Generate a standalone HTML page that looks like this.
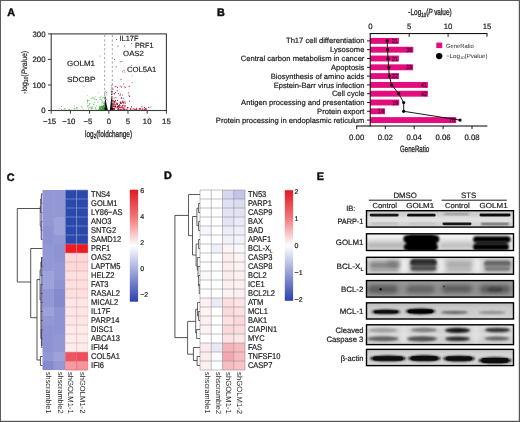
<!DOCTYPE html>
<html><head><meta charset="utf-8"><title>Figure</title>
<style>
html,body{margin:0;padding:0;background:#fff;}
body{width:520px;height:422px;overflow:hidden;font-family:"Liberation Sans", sans-serif;}
svg{display:block;font-family:"Liberation Sans", sans-serif;}
</style></head><body>
<svg width="520" height="422" viewBox="0 0 520 422" text-rendering="geometricPrecision">
<defs><filter id="soft" x="0" y="0" width="100%" height="100%" filterUnits="objectBoundingBox"><feGaussianBlur stdDeviation="0.35"/></filter></defs>
<g opacity="0.999" filter="url(#soft)">
<rect x="0" y="0" width="520" height="422" fill="#fff"/>
<text x="7.3" y="16.4" font-size="10.8" font-weight="bold" fill="#111" stroke="#111" stroke-width="0.45">A</text>
<text x="217" y="16.4" font-size="10.8" font-weight="bold" fill="#111" stroke="#111" stroke-width="0.45">B</text>
<text x="6.8" y="180.5" font-size="10.8" font-weight="bold" fill="#111" stroke="#111" stroke-width="0.45">C</text>
<text x="164" y="179.2" font-size="10.8" font-weight="bold" fill="#111" stroke="#111" stroke-width="0.45">D</text>
<text x="316.8" y="179.6" font-size="10.8" font-weight="bold" fill="#111" stroke="#111" stroke-width="0.45">E</text>
<g>
<circle cx="74.7" cy="108.2" r="0.5" fill="#3fb53f"/>
<circle cx="92.2" cy="108.6" r="0.5" fill="#3fb53f"/>
<circle cx="76.8" cy="108.1" r="0.5" fill="#3fb53f"/>
<circle cx="64.8" cy="108.4" r="0.5" fill="#3fb53f"/>
<circle cx="81.3" cy="106.5" r="0.5" fill="#3fb53f"/>
<circle cx="61.5" cy="109.2" r="0.5" fill="#3fb53f"/>
<circle cx="61.4" cy="106.4" r="0.5" fill="#3fb53f"/>
<circle cx="83.7" cy="109.9" r="0.5" fill="#3fb53f"/>
<circle cx="94.3" cy="102.6" r="0.5" fill="#3fb53f"/>
<circle cx="82.2" cy="107.9" r="0.5" fill="#3fb53f"/>
<circle cx="63.8" cy="110.0" r="0.5" fill="#3fb53f"/>
<circle cx="77.6" cy="109.9" r="0.5" fill="#3fb53f"/>
<circle cx="65.0" cy="109.4" r="0.5" fill="#3fb53f"/>
<circle cx="59.1" cy="108.6" r="0.5" fill="#3fb53f"/>
<circle cx="74.3" cy="105.9" r="0.5" fill="#3fb53f"/>
<circle cx="77.2" cy="107.8" r="0.5" fill="#3fb53f"/>
<circle cx="76.5" cy="107.6" r="0.5" fill="#3fb53f"/>
<circle cx="74.9" cy="109.3" r="0.5" fill="#3fb53f"/>
<circle cx="94.9" cy="99.0" r="0.5" fill="#3fb53f"/>
<circle cx="89.1" cy="107.3" r="0.5" fill="#3fb53f"/>
<circle cx="69.7" cy="109.4" r="0.5" fill="#3fb53f"/>
<circle cx="68.7" cy="109.8" r="0.5" fill="#3fb53f"/>
<circle cx="92.1" cy="106.7" r="0.5" fill="#3fb53f"/>
<circle cx="90.3" cy="106.9" r="0.5" fill="#3fb53f"/>
<circle cx="87.8" cy="99.9" r="0.5" fill="#3fb53f"/>
<circle cx="104.8" cy="108.8" r="0.5" fill="#3fb53f"/>
<circle cx="88.9" cy="105.8" r="0.5" fill="#3fb53f"/>
<circle cx="87.3" cy="106.7" r="0.5" fill="#3fb53f"/>
<circle cx="104.2" cy="103.5" r="0.5" fill="#3fb53f"/>
<circle cx="91.8" cy="108.2" r="0.5" fill="#3fb53f"/>
<circle cx="104.0" cy="107.5" r="0.5" fill="#3fb53f"/>
<circle cx="87.6" cy="101.4" r="0.5" fill="#3fb53f"/>
<circle cx="103.7" cy="108.4" r="0.5" fill="#3fb53f"/>
<circle cx="103.9" cy="109.8" r="0.5" fill="#3fb53f"/>
<circle cx="91.4" cy="109.0" r="0.5" fill="#3fb53f"/>
<circle cx="96.3" cy="106.1" r="0.5" fill="#3fb53f"/>
<circle cx="102.7" cy="101.9" r="0.5" fill="#3fb53f"/>
<circle cx="103.5" cy="103.3" r="0.5" fill="#3fb53f"/>
<circle cx="103.7" cy="106.5" r="0.5" fill="#3fb53f"/>
<circle cx="102.4" cy="108.2" r="0.5" fill="#3fb53f"/>
<circle cx="87.5" cy="100.6" r="0.5" fill="#3fb53f"/>
<circle cx="101.0" cy="99.2" r="0.5" fill="#3fb53f"/>
<circle cx="102.4" cy="106.8" r="0.5" fill="#3fb53f"/>
<circle cx="90.1" cy="103.3" r="0.5" fill="#3fb53f"/>
<circle cx="103.9" cy="97.2" r="0.5" fill="#3fb53f"/>
<circle cx="102.4" cy="108.3" r="0.5" fill="#3fb53f"/>
<circle cx="91.9" cy="107.5" r="0.5" fill="#3fb53f"/>
<circle cx="101.1" cy="109.7" r="0.5" fill="#3fb53f"/>
<circle cx="104.0" cy="104.2" r="0.5" fill="#3fb53f"/>
<circle cx="101.9" cy="103.9" r="0.5" fill="#3fb53f"/>
<circle cx="99.8" cy="106.0" r="0.5" fill="#3fb53f"/>
<circle cx="87.8" cy="105.6" r="0.5" fill="#3fb53f"/>
<circle cx="96.0" cy="99.5" r="0.5" fill="#3fb53f"/>
<circle cx="102.8" cy="109.2" r="0.5" fill="#3fb53f"/>
<circle cx="88.9" cy="100.4" r="0.5" fill="#3fb53f"/>
<circle cx="101.8" cy="108.9" r="0.5" fill="#3fb53f"/>
<circle cx="92.6" cy="98.1" r="0.5" fill="#3fb53f"/>
<circle cx="102.6" cy="98.0" r="0.5" fill="#3fb53f"/>
<circle cx="89.5" cy="103.9" r="0.5" fill="#3fb53f"/>
<circle cx="98.9" cy="109.6" r="0.5" fill="#3fb53f"/>
<circle cx="104.5" cy="97.7" r="0.5" fill="#3fb53f"/>
<circle cx="102.0" cy="102.3" r="0.5" fill="#3fb53f"/>
<circle cx="101.7" cy="100.3" r="0.5" fill="#3fb53f"/>
<circle cx="95.6" cy="107.9" r="0.5" fill="#3fb53f"/>
<circle cx="102.9" cy="102.1" r="0.5" fill="#3fb53f"/>
<circle cx="104.2" cy="108.6" r="0.5" fill="#3fb53f"/>
<circle cx="96.3" cy="99.8" r="0.5" fill="#3fb53f"/>
<circle cx="95.2" cy="108.1" r="0.5" fill="#3fb53f"/>
<circle cx="88.7" cy="108.8" r="0.5" fill="#3fb53f"/>
<circle cx="104.7" cy="108.2" r="0.5" fill="#3fb53f"/>
<circle cx="98.5" cy="109.8" r="0.5" fill="#3fb53f"/>
<circle cx="102.9" cy="107.1" r="0.5" fill="#3fb53f"/>
<circle cx="96.1" cy="109.4" r="0.5" fill="#3fb53f"/>
<circle cx="100.0" cy="99.1" r="0.5" fill="#3fb53f"/>
<circle cx="87.3" cy="103.1" r="0.5" fill="#3fb53f"/>
<circle cx="93.7" cy="104.2" r="0.5" fill="#3fb53f"/>
<circle cx="103.4" cy="109.9" r="0.5" fill="#3fb53f"/>
<circle cx="104.7" cy="98.7" r="0.5" fill="#3fb53f"/>
<circle cx="93.5" cy="97.7" r="0.5" fill="#3fb53f"/>
<circle cx="104.7" cy="103.4" r="0.5" fill="#3fb53f"/>
<circle cx="97.8" cy="101.9" r="0.5" fill="#3fb53f"/>
<circle cx="100.7" cy="97.0" r="0.5" fill="#3fb53f"/>
<circle cx="99.9" cy="108.0" r="0.55" fill="#2fa82f"/>
<circle cx="103.6" cy="106.1" r="0.55" fill="#2fa82f"/>
<circle cx="103.6" cy="107.2" r="0.55" fill="#2fa82f"/>
<circle cx="103.9" cy="106.0" r="0.55" fill="#2fa82f"/>
<circle cx="101.4" cy="107.2" r="0.55" fill="#2fa82f"/>
<circle cx="104.5" cy="106.2" r="0.55" fill="#2fa82f"/>
<circle cx="101.8" cy="106.7" r="0.55" fill="#2fa82f"/>
<circle cx="104.2" cy="107.8" r="0.55" fill="#2fa82f"/>
<circle cx="102.9" cy="108.7" r="0.55" fill="#2fa82f"/>
<circle cx="102.7" cy="107.6" r="0.55" fill="#2fa82f"/>
<circle cx="99.9" cy="107.5" r="0.55" fill="#2fa82f"/>
<circle cx="105.0" cy="106.2" r="0.55" fill="#2fa82f"/>
<circle cx="103.5" cy="108.7" r="0.55" fill="#2fa82f"/>
<circle cx="103.5" cy="107.8" r="0.55" fill="#2fa82f"/>
<circle cx="101.9" cy="106.4" r="0.55" fill="#2fa82f"/>
<circle cx="100.0" cy="106.9" r="0.55" fill="#2fa82f"/>
<circle cx="99.7" cy="107.7" r="0.55" fill="#2fa82f"/>
<circle cx="102.1" cy="109.3" r="0.55" fill="#2fa82f"/>
<circle cx="103.3" cy="108.2" r="0.55" fill="#2fa82f"/>
<circle cx="102.9" cy="106.0" r="0.55" fill="#2fa82f"/>
<circle cx="100.9" cy="110.0" r="0.55" fill="#2fa82f"/>
<circle cx="101.2" cy="107.3" r="0.55" fill="#2fa82f"/>
<circle cx="100.6" cy="109.6" r="0.55" fill="#2fa82f"/>
<circle cx="104.5" cy="107.4" r="0.55" fill="#2fa82f"/>
<circle cx="101.9" cy="106.1" r="0.55" fill="#2fa82f"/>
<circle cx="101.3" cy="107.3" r="0.55" fill="#2fa82f"/>
<circle cx="100.6" cy="108.5" r="0.55" fill="#2fa82f"/>
<circle cx="103.9" cy="106.0" r="0.55" fill="#2fa82f"/>
<circle cx="104.3" cy="108.7" r="0.55" fill="#2fa82f"/>
<circle cx="102.7" cy="109.0" r="0.55" fill="#2fa82f"/>
<circle cx="100.2" cy="108.2" r="0.55" fill="#2fa82f"/>
<circle cx="104.1" cy="106.4" r="0.55" fill="#2fa82f"/>
<circle cx="103.4" cy="105.8" r="0.55" fill="#2fa82f"/>
<circle cx="101.0" cy="109.6" r="0.55" fill="#2fa82f"/>
<circle cx="102.0" cy="109.2" r="0.55" fill="#2fa82f"/>
<circle cx="100.7" cy="108.6" r="0.55" fill="#2fa82f"/>
<circle cx="102.9" cy="108.2" r="0.55" fill="#2fa82f"/>
<circle cx="101.2" cy="106.4" r="0.55" fill="#2fa82f"/>
<circle cx="104.9" cy="108.4" r="0.55" fill="#2fa82f"/>
<circle cx="99.9" cy="109.9" r="0.55" fill="#2fa82f"/>
<circle cx="104.3" cy="109.9" r="0.55" fill="#2fa82f"/>
<circle cx="103.4" cy="107.8" r="0.55" fill="#2fa82f"/>
<circle cx="101.2" cy="106.7" r="0.55" fill="#2fa82f"/>
<circle cx="99.6" cy="109.7" r="0.55" fill="#2fa82f"/>
<circle cx="102.0" cy="110.0" r="0.55" fill="#2fa82f"/>
<circle cx="104.1" cy="109.3" r="0.55" fill="#2fa82f"/>
<circle cx="100.3" cy="109.9" r="0.55" fill="#2fa82f"/>
<circle cx="103.0" cy="108.4" r="0.55" fill="#2fa82f"/>
<circle cx="103.0" cy="107.4" r="0.55" fill="#2fa82f"/>
<circle cx="103.9" cy="105.7" r="0.55" fill="#2fa82f"/>
<circle cx="103.3" cy="109.4" r="0.55" fill="#2fa82f"/>
<circle cx="102.1" cy="109.5" r="0.55" fill="#2fa82f"/>
<circle cx="99.6" cy="108.3" r="0.55" fill="#2fa82f"/>
<circle cx="103.4" cy="109.5" r="0.55" fill="#2fa82f"/>
<circle cx="101.0" cy="108.9" r="0.55" fill="#2fa82f"/>
<circle cx="95.8" cy="96.2" r="0.45" fill="#3fb53f"/>
<circle cx="94.6" cy="98.0" r="0.45" fill="#3fb53f"/>
<circle cx="91.5" cy="98.3" r="0.45" fill="#3fb53f"/>
<circle cx="98.7" cy="92.7" r="0.45" fill="#3fb53f"/>
<circle cx="99.1" cy="97.8" r="0.45" fill="#3fb53f"/>
<circle cx="87.8" cy="95.6" r="0.45" fill="#3fb53f"/>
<circle cx="104.8" cy="93.1" r="0.45" fill="#111"/>
<circle cx="104.8" cy="95.3" r="0.45" fill="#111"/>
<circle cx="106.2" cy="99.4" r="0.45" fill="#111"/>
<circle cx="105.0" cy="94.1" r="0.45" fill="#111"/>
<circle cx="105.4" cy="96.9" r="0.45" fill="#111"/>
<circle cx="105.3" cy="98.0" r="0.45" fill="#111"/>
<circle cx="105.1" cy="91.3" r="0.45" fill="#111"/>
<circle cx="105.0" cy="98.9" r="0.45" fill="#111"/>
<circle cx="107.0" cy="94.9" r="0.45" fill="#111"/>
<circle cx="105.4" cy="97.7" r="0.45" fill="#111"/>
<circle cx="105.1" cy="98.4" r="0.45" fill="#111"/>
<circle cx="106.6" cy="92.8" r="0.45" fill="#111"/>
<circle cx="112.2" cy="91.6" r="0.45" fill="#111"/>
<circle cx="112.0" cy="94.2" r="0.45" fill="#111"/>
<circle cx="111.6" cy="94.7" r="0.45" fill="#111"/>
<circle cx="111.7" cy="85.8" r="0.45" fill="#111"/>
<circle cx="111.8" cy="89.0" r="0.45" fill="#111"/>
<circle cx="111.4" cy="94.5" r="0.45" fill="#111"/>
<circle cx="111.9" cy="91.2" r="0.45" fill="#111"/>
<circle cx="111.9" cy="93.7" r="0.45" fill="#111"/>
<circle cx="112.1" cy="96.3" r="0.45" fill="#111"/>
<circle cx="111.1" cy="90.9" r="0.45" fill="#111"/>
<circle cx="111.9" cy="87.7" r="0.45" fill="#111"/>
<circle cx="111.6" cy="91.3" r="0.45" fill="#111"/>
<circle cx="111.5" cy="92.7" r="0.45" fill="#111"/>
<circle cx="112.5" cy="91.3" r="0.45" fill="#111"/>
<circle cx="122.8" cy="105.5" r="0.6" fill="#a80f28"/>
<circle cx="115.1" cy="107.2" r="0.6" fill="#a80f28"/>
<circle cx="122.9" cy="102.1" r="0.6" fill="#a80f28"/>
<circle cx="114.0" cy="102.6" r="0.6" fill="#a80f28"/>
<circle cx="125.0" cy="105.9" r="0.6" fill="#a80f28"/>
<circle cx="118.6" cy="108.7" r="0.6" fill="#a80f28"/>
<circle cx="118.0" cy="106.1" r="0.6" fill="#a80f28"/>
<circle cx="119.0" cy="109.9" r="0.6" fill="#a80f28"/>
<circle cx="125.0" cy="105.9" r="0.6" fill="#a80f28"/>
<circle cx="116.2" cy="103.1" r="0.6" fill="#a80f28"/>
<circle cx="118.4" cy="106.2" r="0.6" fill="#a80f28"/>
<circle cx="120.3" cy="109.7" r="0.6" fill="#a80f28"/>
<circle cx="118.1" cy="106.9" r="0.6" fill="#a80f28"/>
<circle cx="124.8" cy="101.8" r="0.6" fill="#a80f28"/>
<circle cx="114.7" cy="106.3" r="0.6" fill="#a80f28"/>
<circle cx="113.3" cy="106.7" r="0.6" fill="#a80f28"/>
<circle cx="122.4" cy="102.1" r="0.6" fill="#a80f28"/>
<circle cx="117.2" cy="107.7" r="0.6" fill="#a80f28"/>
<circle cx="113.9" cy="104.9" r="0.6" fill="#a80f28"/>
<circle cx="124.3" cy="109.2" r="0.6" fill="#a80f28"/>
<circle cx="121.8" cy="109.9" r="0.6" fill="#a80f28"/>
<circle cx="113.9" cy="108.5" r="0.6" fill="#a80f28"/>
<circle cx="120.3" cy="107.7" r="0.6" fill="#a80f28"/>
<circle cx="115.7" cy="104.9" r="0.6" fill="#a80f28"/>
<circle cx="113.2" cy="103.8" r="0.6" fill="#a80f28"/>
<circle cx="113.3" cy="106.0" r="0.6" fill="#a80f28"/>
<circle cx="114.5" cy="108.7" r="0.6" fill="#a80f28"/>
<circle cx="117.9" cy="106.7" r="0.6" fill="#a80f28"/>
<circle cx="115.9" cy="106.9" r="0.6" fill="#a80f28"/>
<circle cx="117.9" cy="109.0" r="0.6" fill="#a80f28"/>
<circle cx="114.0" cy="104.8" r="0.6" fill="#a80f28"/>
<circle cx="119.5" cy="105.8" r="0.6" fill="#a80f28"/>
<circle cx="123.0" cy="105.0" r="0.6" fill="#a80f28"/>
<circle cx="123.1" cy="108.4" r="0.6" fill="#a80f28"/>
<circle cx="121.1" cy="103.0" r="0.6" fill="#a80f28"/>
<circle cx="123.9" cy="107.7" r="0.6" fill="#a80f28"/>
<circle cx="115.2" cy="101.8" r="0.6" fill="#a80f28"/>
<circle cx="114.1" cy="101.0" r="0.6" fill="#a80f28"/>
<circle cx="123.6" cy="109.2" r="0.6" fill="#a80f28"/>
<circle cx="114.4" cy="103.9" r="0.6" fill="#a80f28"/>
<circle cx="114.6" cy="109.5" r="0.6" fill="#a80f28"/>
<circle cx="122.7" cy="106.8" r="0.6" fill="#a80f28"/>
<circle cx="121.9" cy="109.3" r="0.6" fill="#a80f28"/>
<circle cx="116.2" cy="104.3" r="0.6" fill="#a80f28"/>
<circle cx="112.6" cy="108.7" r="0.6" fill="#a80f28"/>
<circle cx="120.2" cy="101.9" r="0.6" fill="#a80f28"/>
<circle cx="125.0" cy="109.3" r="0.6" fill="#a80f28"/>
<circle cx="117.6" cy="103.5" r="0.6" fill="#a80f28"/>
<circle cx="117.6" cy="104.3" r="0.6" fill="#a80f28"/>
<circle cx="113.9" cy="109.6" r="0.6" fill="#a80f28"/>
<circle cx="113.2" cy="109.8" r="0.6" fill="#a80f28"/>
<circle cx="118.3" cy="105.9" r="0.6" fill="#a80f28"/>
<circle cx="118.5" cy="109.1" r="0.6" fill="#a80f28"/>
<circle cx="113.8" cy="108.7" r="0.6" fill="#a80f28"/>
<circle cx="122.8" cy="101.1" r="0.6" fill="#a80f28"/>
<circle cx="124.3" cy="109.5" r="0.6" fill="#a80f28"/>
<circle cx="112.9" cy="101.5" r="0.6" fill="#a80f28"/>
<circle cx="117.0" cy="103.5" r="0.6" fill="#a80f28"/>
<circle cx="115.3" cy="106.4" r="0.6" fill="#a80f28"/>
<circle cx="117.7" cy="106.7" r="0.6" fill="#a80f28"/>
<circle cx="119.0" cy="109.9" r="0.6" fill="#a80f28"/>
<circle cx="120.5" cy="102.7" r="0.6" fill="#a80f28"/>
<circle cx="113.8" cy="106.5" r="0.6" fill="#a80f28"/>
<circle cx="121.1" cy="107.0" r="0.6" fill="#a80f28"/>
<circle cx="113.9" cy="109.0" r="0.6" fill="#a80f28"/>
<circle cx="117.7" cy="109.9" r="0.6" fill="#a80f28"/>
<circle cx="123.7" cy="103.1" r="0.6" fill="#a80f28"/>
<circle cx="120.6" cy="102.5" r="0.6" fill="#a80f28"/>
<circle cx="119.4" cy="107.0" r="0.6" fill="#a80f28"/>
<circle cx="119.0" cy="106.0" r="0.6" fill="#a80f28"/>
<circle cx="125.3" cy="103.1" r="0.6" fill="#a80f28"/>
<circle cx="114.6" cy="101.9" r="0.6" fill="#a80f28"/>
<circle cx="121.2" cy="103.3" r="0.6" fill="#a80f28"/>
<circle cx="122.4" cy="107.0" r="0.6" fill="#a80f28"/>
<circle cx="123.8" cy="102.3" r="0.6" fill="#a80f28"/>
<circle cx="120.4" cy="103.5" r="0.6" fill="#a80f28"/>
<circle cx="121.5" cy="107.0" r="0.6" fill="#a80f28"/>
<circle cx="120.8" cy="109.6" r="0.6" fill="#a80f28"/>
<circle cx="115.5" cy="106.4" r="0.6" fill="#a80f28"/>
<circle cx="112.6" cy="107.4" r="0.6" fill="#a80f28"/>
<circle cx="119.5" cy="104.9" r="0.6" fill="#a80f28"/>
<circle cx="114.3" cy="101.6" r="0.6" fill="#a80f28"/>
<circle cx="120.0" cy="107.6" r="0.6" fill="#a80f28"/>
<circle cx="119.9" cy="105.4" r="0.6" fill="#a80f28"/>
<circle cx="118.0" cy="107.1" r="0.6" fill="#a80f28"/>
<circle cx="129.6" cy="96.3" r="0.55" fill="#bd1230"/>
<circle cx="123.3" cy="98.2" r="0.55" fill="#bd1230"/>
<circle cx="129.2" cy="86.4" r="0.55" fill="#bd1230"/>
<circle cx="121.6" cy="97.8" r="0.55" fill="#bd1230"/>
<circle cx="115.5" cy="92.4" r="0.55" fill="#bd1230"/>
<circle cx="113.0" cy="89.1" r="0.55" fill="#bd1230"/>
<circle cx="117.4" cy="87.6" r="0.55" fill="#bd1230"/>
<circle cx="115.4" cy="100.5" r="0.55" fill="#bd1230"/>
<circle cx="120.4" cy="94.1" r="0.55" fill="#bd1230"/>
<circle cx="128.9" cy="95.1" r="0.55" fill="#bd1230"/>
<circle cx="129.5" cy="96.2" r="0.55" fill="#bd1230"/>
<circle cx="125.5" cy="87.2" r="0.55" fill="#bd1230"/>
<circle cx="121.3" cy="98.1" r="0.55" fill="#bd1230"/>
<circle cx="112.9" cy="100.9" r="0.55" fill="#bd1230"/>
<circle cx="114.2" cy="93.5" r="0.55" fill="#bd1230"/>
<circle cx="114.3" cy="93.9" r="0.55" fill="#bd1230"/>
<circle cx="121.6" cy="86.9" r="0.55" fill="#bd1230"/>
<circle cx="128.4" cy="92.7" r="0.55" fill="#bd1230"/>
<circle cx="120.0" cy="95.6" r="0.55" fill="#bd1230"/>
<circle cx="117.2" cy="90.6" r="0.55" fill="#bd1230"/>
<circle cx="122.4" cy="95.0" r="0.55" fill="#bd1230"/>
<circle cx="115.9" cy="97.5" r="0.55" fill="#bd1230"/>
<circle cx="116.1" cy="86.2" r="0.55" fill="#bd1230"/>
<circle cx="115.3" cy="86.7" r="0.55" fill="#bd1230"/>
<circle cx="114.1" cy="98.1" r="0.55" fill="#bd1230"/>
<circle cx="117.6" cy="100.4" r="0.55" fill="#bd1230"/>
<circle cx="124.3" cy="86.8" r="0.55" fill="#bd1230"/>
<circle cx="129.4" cy="101.1" r="0.55" fill="#bd1230"/>
<circle cx="113.2" cy="100.5" r="0.55" fill="#bd1230"/>
<circle cx="118.3" cy="93.6" r="0.55" fill="#bd1230"/>
<circle cx="131.8" cy="65.3" r="0.5" fill="#bd1230"/>
<circle cx="120.2" cy="86.1" r="0.5" fill="#bd1230"/>
<circle cx="124.9" cy="72.1" r="0.5" fill="#bd1230"/>
<circle cx="132.0" cy="82.5" r="0.5" fill="#bd1230"/>
<circle cx="122.0" cy="61.5" r="0.5" fill="#bd1230"/>
<circle cx="122.5" cy="71.7" r="0.5" fill="#bd1230"/>
<circle cx="114.4" cy="59.6" r="0.5" fill="#bd1230"/>
<circle cx="120.3" cy="61.7" r="0.5" fill="#bd1230"/>
<circle cx="136.5" cy="108.3" r="0.55" fill="#bd1230"/>
<circle cx="136.8" cy="109.6" r="0.55" fill="#bd1230"/>
<circle cx="140.1" cy="109.2" r="0.55" fill="#bd1230"/>
<circle cx="145.2" cy="108.8" r="0.55" fill="#bd1230"/>
<circle cx="150.9" cy="107.0" r="0.55" fill="#bd1230"/>
<circle cx="144.1" cy="109.7" r="0.55" fill="#bd1230"/>
<circle cx="128.0" cy="107.3" r="0.55" fill="#bd1230"/>
<circle cx="145.4" cy="108.5" r="0.55" fill="#bd1230"/>
<circle cx="134.3" cy="109.6" r="0.55" fill="#bd1230"/>
<circle cx="142.8" cy="108.7" r="0.55" fill="#bd1230"/>
<circle cx="140.4" cy="108.5" r="0.55" fill="#bd1230"/>
<circle cx="144.6" cy="109.8" r="0.55" fill="#bd1230"/>
<circle cx="131.5" cy="106.9" r="0.55" fill="#bd1230"/>
<circle cx="148.8" cy="107.4" r="0.55" fill="#bd1230"/>
<circle cx="126.0" cy="110.0" r="0.55" fill="#bd1230"/>
<circle cx="132.0" cy="109.2" r="0.55" fill="#bd1230"/>
<circle cx="141.2" cy="109.9" r="0.55" fill="#bd1230"/>
<circle cx="139.1" cy="110.0" r="0.55" fill="#bd1230"/>
<circle cx="127.2" cy="108.3" r="0.55" fill="#bd1230"/>
<circle cx="139.3" cy="108.5" r="0.55" fill="#bd1230"/>
<circle cx="134.7" cy="109.0" r="0.55" fill="#bd1230"/>
<circle cx="130.5" cy="109.4" r="0.55" fill="#bd1230"/>
<circle cx="144.4" cy="107.6" r="0.55" fill="#bd1230"/>
<circle cx="126.9" cy="109.9" r="0.55" fill="#bd1230"/>
<circle cx="146.0" cy="108.5" r="0.55" fill="#bd1230"/>
<circle cx="145.0" cy="109.7" r="0.55" fill="#bd1230"/>
<circle cx="136.0" cy="109.6" r="0.55" fill="#bd1230"/>
<circle cx="146.1" cy="109.4" r="0.55" fill="#bd1230"/>
<circle cx="142.0" cy="106.9" r="0.55" fill="#bd1230"/>
<circle cx="133.5" cy="108.8" r="0.55" fill="#bd1230"/>
<circle cx="144.4" cy="107.2" r="0.55" fill="#bd1230"/>
<circle cx="136.1" cy="109.4" r="0.55" fill="#bd1230"/>
<circle cx="127.5" cy="107.4" r="0.55" fill="#bd1230"/>
<circle cx="127.0" cy="109.9" r="0.55" fill="#bd1230"/>
<circle cx="139.7" cy="109.0" r="0.55" fill="#bd1230"/>
<circle cx="142.8" cy="109.5" r="0.55" fill="#bd1230"/>
<circle cx="145.2" cy="109.9" r="0.55" fill="#bd1230"/>
<circle cx="130.5" cy="108.3" r="0.55" fill="#bd1230"/>
<circle cx="116.5" cy="39.5" r="0.55" fill="#c4122f"/>
<circle cx="118" cy="46" r="0.55" fill="#c4122f"/>
<circle cx="124.3" cy="46" r="0.55" fill="#c4122f"/>
<circle cx="131.8" cy="43.5" r="0.55" fill="#c4122f"/>
<circle cx="116.2" cy="66.8" r="0.55" fill="#c4122f"/>
<circle cx="124" cy="70.3" r="0.55" fill="#c4122f"/>
<circle cx="121" cy="79.3" r="0.55" fill="#c4122f"/>
<circle cx="112.4" cy="84" r="0.55" fill="#c4122f"/>
<circle cx="123.6" cy="84" r="0.55" fill="#c4122f"/>
<path d="M104.2 110.4 L104.6 105 L105.0 100.5 L105.4 98.8 L105.9 100.5 L106.8 105.5 L108.0 110.4 Z M109.8 110.4 L110.6 104 L111.3 98 L111.8 95.2 L112.3 98.5 L112.7 104 L113.1 110.4 Z" fill="#0c0c0c"/>
<circle cx="99.8" cy="56" r="0.6" fill="#999"/><circle cx="132" cy="76" r="0.6" fill="#999"/><circle cx="84" cy="86.5" r="0.5" fill="#888"/>
</g>
<line x1="104.7" y1="35" x2="104.7" y2="110" stroke="#9a9a9a" stroke-width="0.9" stroke-dasharray="2.2 2.2"/>
<line x1="112.3" y1="35" x2="112.3" y2="110" stroke="#9a9a9a" stroke-width="0.9" stroke-dasharray="2.2 2.2"/>
<rect x="51.2" y="33.9" width="115.2" height="76.6" fill="none" stroke="#3c3c3c" stroke-width="1.1"/>
<line x1="48.0" y1="110.5" x2="51.2" y2="110.5" stroke="#3c3c3c" stroke-width="1"/>
<text x="45.5" y="113.3" font-size="7.8" text-anchor="end" fill="#222" stroke="#222" stroke-width="0.2">0</text>
<line x1="48.0" y1="84.96666666666667" x2="51.2" y2="84.96666666666667" stroke="#3c3c3c" stroke-width="1"/>
<text x="45.5" y="87.76666666666667" font-size="7.8" text-anchor="end" fill="#222" stroke="#222" stroke-width="0.2">100</text>
<line x1="48.0" y1="59.43333333333334" x2="51.2" y2="59.43333333333334" stroke="#3c3c3c" stroke-width="1"/>
<text x="45.5" y="62.233333333333334" font-size="7.8" text-anchor="end" fill="#222" stroke="#222" stroke-width="0.2">200</text>
<line x1="48.0" y1="33.900000000000006" x2="51.2" y2="33.900000000000006" stroke="#3c3c3c" stroke-width="1"/>
<text x="45.5" y="36.7" font-size="7.8" text-anchor="end" fill="#222" stroke="#222" stroke-width="0.2">300</text>
<line x1="51.2" y1="110.5" x2="51.2" y2="113.7" stroke="#3c3c3c" stroke-width="1"/>
<text x="49.6" y="123.6" font-size="7.8" text-anchor="middle" fill="#222" stroke="#222" stroke-width="0.2">−15</text>
<line x1="70.4" y1="110.5" x2="70.4" y2="113.7" stroke="#3c3c3c" stroke-width="1"/>
<text x="68.80000000000001" y="123.6" font-size="7.8" text-anchor="middle" fill="#222" stroke="#222" stroke-width="0.2">−10</text>
<line x1="89.6" y1="110.5" x2="89.6" y2="113.7" stroke="#3c3c3c" stroke-width="1"/>
<text x="88.0" y="123.6" font-size="7.8" text-anchor="middle" fill="#222" stroke="#222" stroke-width="0.2">−5</text>
<line x1="108.8" y1="110.5" x2="108.8" y2="113.7" stroke="#3c3c3c" stroke-width="1"/>
<text x="108.8" y="123.6" font-size="7.8" text-anchor="middle" fill="#222" stroke="#222" stroke-width="0.2">0</text>
<line x1="128.0" y1="110.5" x2="128.0" y2="113.7" stroke="#3c3c3c" stroke-width="1"/>
<text x="128.0" y="123.6" font-size="7.8" text-anchor="middle" fill="#222" stroke="#222" stroke-width="0.2">5</text>
<line x1="147.2" y1="110.5" x2="147.2" y2="113.7" stroke="#3c3c3c" stroke-width="1"/>
<text x="147.2" y="123.6" font-size="7.8" text-anchor="middle" fill="#222" stroke="#222" stroke-width="0.2">10</text>
<line x1="166.39999999999998" y1="110.5" x2="166.39999999999998" y2="113.7" stroke="#3c3c3c" stroke-width="1"/>
<text x="166.39999999999998" y="123.6" font-size="7.8" text-anchor="middle" fill="#222" stroke="#222" stroke-width="0.2">15</text>
<text x="119.5" y="40.7" font-size="7.5" textLength="19" lengthAdjust="spacingAndGlyphs" fill="#2a2a2a" stroke="#2a2a2a" stroke-width="0.2">IL17F</text>
<text x="135" y="47.7" font-size="7.5" textLength="18.5" lengthAdjust="spacingAndGlyphs" fill="#2a2a2a" stroke="#2a2a2a" stroke-width="0.2">PRF1</text>
<text x="123.1" y="55.6" font-size="7.5" textLength="20.8" lengthAdjust="spacingAndGlyphs" fill="#2a2a2a" stroke="#2a2a2a" stroke-width="0.2">OAS2</text>
<text x="126.9" y="71.6" font-size="7.5" textLength="29.5" lengthAdjust="spacingAndGlyphs" fill="#2a2a2a" stroke="#2a2a2a" stroke-width="0.2">COL5A1</text>
<text x="67" y="66" font-size="7.5" textLength="28" lengthAdjust="spacingAndGlyphs" fill="#2a2a2a" stroke="#2a2a2a" stroke-width="0.2">GOLM1</text>
<text x="67" y="82.3" font-size="7.5" textLength="28.5" lengthAdjust="spacingAndGlyphs" fill="#2a2a2a" stroke="#2a2a2a" stroke-width="0.2">SDCBP</text>
<text x="108.6" y="136.6" font-size="9" text-anchor="middle" textLength="47" lengthAdjust="spacingAndGlyphs" fill="#2a2a2a" stroke="#2a2a2a" stroke-width="0.34">log<tspan font-size="6.2" dy="1.8">2</tspan><tspan dy="-1.8">(foldchange)</tspan></text>
<g transform="translate(26.7,72.3) rotate(-90)">
<text x="0" y="0" font-size="8" text-anchor="middle" textLength="43" lengthAdjust="spacingAndGlyphs" fill="#2a2a2a" stroke="#2a2a2a" stroke-width="0.2">-log<tspan font-size="5.8" dy="1.6">10</tspan><tspan dy="-1.6">(</tspan><tspan font-style="italic">P</tspan>value)</text>
</g>
<rect x="370.20" y="37.95" width="28.70" height="5.90" fill="#e3097e"/>
<text x="397.79999999999995" y="43.0" font-size="6" text-anchor="end" textLength="5.8" lengthAdjust="spacingAndGlyphs" fill="#560640" stroke="#560640" stroke-width="0.3">21</text>
<line x1="367.0" y1="40.9" x2="370.2" y2="40.9" stroke="#000" stroke-width="0.9"/>
<text x="364.4" y="43.1" font-size="7.6" text-anchor="end" fill="#1c1c1c" stroke="#1c1c1c" stroke-width="0.2">Th17 cell differentiation</text>
<rect x="370.20" y="46.75" width="43.10" height="5.90" fill="#e3097e"/>
<text x="412.2" y="51.800000000000004" font-size="6" text-anchor="end" textLength="5.8" lengthAdjust="spacingAndGlyphs" fill="#560640" stroke="#560640" stroke-width="0.3">35</text>
<line x1="367.0" y1="49.7" x2="370.2" y2="49.7" stroke="#000" stroke-width="0.9"/>
<text x="364.4" y="51.980000000000004" font-size="7.6" text-anchor="end" fill="#1c1c1c" stroke="#1c1c1c" stroke-width="0.2">Lysosome</text>
<rect x="370.20" y="55.55" width="28.70" height="5.90" fill="#e3097e"/>
<text x="397.79999999999995" y="60.6" font-size="6" text-anchor="end" textLength="5.8" lengthAdjust="spacingAndGlyphs" fill="#560640" stroke="#560640" stroke-width="0.3">21</text>
<line x1="367.0" y1="58.5" x2="370.2" y2="58.5" stroke="#000" stroke-width="0.9"/>
<text x="364.4" y="60.86" font-size="7.6" text-anchor="end" fill="#1c1c1c" stroke="#1c1c1c" stroke-width="0.2">Central carbon metabolism in cancer</text>
<rect x="370.20" y="64.35" width="42.90" height="5.90" fill="#e3097e"/>
<text x="412.0" y="69.39999999999999" font-size="6" text-anchor="end" textLength="5.8" lengthAdjust="spacingAndGlyphs" fill="#560640" stroke="#560640" stroke-width="0.3">33</text>
<line x1="367.0" y1="67.3" x2="370.2" y2="67.3" stroke="#000" stroke-width="0.9"/>
<text x="364.4" y="69.74" font-size="7.6" text-anchor="end" fill="#1c1c1c" stroke="#1c1c1c" stroke-width="0.2">Apoptosis</text>
<rect x="370.20" y="73.15" width="28.70" height="5.90" fill="#e3097e"/>
<text x="397.79999999999995" y="78.19999999999999" font-size="6" text-anchor="end" textLength="5.8" lengthAdjust="spacingAndGlyphs" fill="#560640" stroke="#560640" stroke-width="0.3">22</text>
<line x1="367.0" y1="76.1" x2="370.2" y2="76.1" stroke="#000" stroke-width="0.9"/>
<text x="364.4" y="78.62" font-size="7.6" text-anchor="end" fill="#1c1c1c" stroke="#1c1c1c" stroke-width="0.2">Biosynthesis of amino acids</text>
<rect x="370.20" y="81.95" width="57.70" height="5.90" fill="#e3097e"/>
<text x="426.79999999999995" y="87.0" font-size="6" text-anchor="end" textLength="5.8" lengthAdjust="spacingAndGlyphs" fill="#560640" stroke="#560640" stroke-width="0.3">41</text>
<line x1="367.0" y1="84.9" x2="370.2" y2="84.9" stroke="#000" stroke-width="0.9"/>
<text x="364.4" y="87.50000000000001" font-size="7.6" text-anchor="end" fill="#1c1c1c" stroke="#1c1c1c" stroke-width="0.2">Epstein-Barr virus infection</text>
<rect x="370.20" y="90.75" width="57.70" height="5.90" fill="#e3097e"/>
<text x="426.79999999999995" y="95.8" font-size="6" text-anchor="end" textLength="5.8" lengthAdjust="spacingAndGlyphs" fill="#560640" stroke="#560640" stroke-width="0.3">42</text>
<line x1="367.0" y1="93.7" x2="370.2" y2="93.7" stroke="#000" stroke-width="0.9"/>
<text x="364.4" y="96.38000000000001" font-size="7.6" text-anchor="end" fill="#1c1c1c" stroke="#1c1c1c" stroke-width="0.2">Cell cycle</text>
<rect x="370.20" y="99.55" width="29.00" height="5.90" fill="#e3097e"/>
<text x="398.09999999999997" y="104.6" font-size="6" text-anchor="end" textLength="5.8" lengthAdjust="spacingAndGlyphs" fill="#560640" stroke="#560640" stroke-width="0.3">19</text>
<line x1="367.0" y1="102.5" x2="370.2" y2="102.5" stroke="#000" stroke-width="0.9"/>
<text x="364.4" y="105.26" font-size="7.6" text-anchor="end" fill="#1c1c1c" stroke="#1c1c1c" stroke-width="0.2">Antigen processing and presentation</text>
<rect x="370.20" y="108.35" width="14.80" height="5.90" fill="#e3097e"/>
<text x="383.9" y="113.4" font-size="6" text-anchor="end" textLength="5.8" lengthAdjust="spacingAndGlyphs" fill="#560640" stroke="#560640" stroke-width="0.3">14</text>
<line x1="367.0" y1="111.30000000000001" x2="370.2" y2="111.30000000000001" stroke="#000" stroke-width="0.9"/>
<text x="364.4" y="114.14" font-size="7.6" text-anchor="end" fill="#1c1c1c" stroke="#1c1c1c" stroke-width="0.2">Protein export</text>
<rect x="370.20" y="117.15" width="86.00" height="5.90" fill="#e3097e"/>
<text x="455.09999999999997" y="122.19999999999999" font-size="6" text-anchor="end" textLength="5.8" lengthAdjust="spacingAndGlyphs" fill="#560640" stroke="#560640" stroke-width="0.3">70</text>
<line x1="367.0" y1="120.1" x2="370.2" y2="120.1" stroke="#000" stroke-width="0.9"/>
<text x="364.4" y="123.02" font-size="7.6" text-anchor="end" fill="#1c1c1c" stroke="#1c1c1c" stroke-width="0.2">Protein processing in endoplasmic reticulum</text>
<line x1="370.2" y1="33.4" x2="370.2" y2="126.4" stroke="#000" stroke-width="1"/>
<line x1="369.7" y1="33.6" x2="487.4" y2="33.6" stroke="#000" stroke-width="1"/>
<text x="370.4" y="29.1" font-size="7.8" text-anchor="middle" fill="#222" stroke="#222" stroke-width="0.2">0</text>
<line x1="409.2" y1="33.6" x2="409.2" y2="36.8" stroke="#000" stroke-width="0.9"/>
<text x="409.2" y="29.1" font-size="7.8" text-anchor="middle" fill="#222" stroke="#222" stroke-width="0.2">5</text>
<line x1="448.1" y1="33.6" x2="448.1" y2="36.8" stroke="#000" stroke-width="0.9"/>
<text x="448.1" y="29.1" font-size="7.8" text-anchor="middle" fill="#222" stroke="#222" stroke-width="0.2">10</text>
<line x1="487" y1="33.6" x2="487" y2="36.8" stroke="#000" stroke-width="0.9"/>
<text x="487" y="29.1" font-size="7.8" text-anchor="middle" fill="#222" stroke="#222" stroke-width="0.2">15</text>
<line x1="356.2" y1="126" x2="487.4" y2="126" stroke="#000" stroke-width="1"/>
<line x1="356.7" y1="126" x2="356.7" y2="129.2" stroke="#000" stroke-width="0.9"/>
<text x="356.7" y="139.6" font-size="7.8" text-anchor="middle" fill="#222" stroke="#222" stroke-width="0.2">0.00</text>
<line x1="385.3" y1="126" x2="385.3" y2="129.2" stroke="#000" stroke-width="0.9"/>
<text x="385.3" y="139.6" font-size="7.8" text-anchor="middle" fill="#222" stroke="#222" stroke-width="0.2">0.02</text>
<line x1="414.2" y1="126" x2="414.2" y2="129.2" stroke="#000" stroke-width="0.9"/>
<text x="414.2" y="139.6" font-size="7.8" text-anchor="middle" fill="#222" stroke="#222" stroke-width="0.2">0.04</text>
<line x1="443.1" y1="126" x2="443.1" y2="129.2" stroke="#000" stroke-width="0.9"/>
<text x="443.1" y="139.6" font-size="7.8" text-anchor="middle" fill="#222" stroke="#222" stroke-width="0.2">0.06</text>
<line x1="472" y1="126" x2="472" y2="129.2" stroke="#000" stroke-width="0.9"/>
<text x="472" y="139.6" font-size="7.8" text-anchor="middle" fill="#222" stroke="#222" stroke-width="0.2">0.08</text>
<text x="414.6" y="152" font-size="9.2" text-anchor="middle" textLength="29.2" lengthAdjust="spacingAndGlyphs" fill="#2a2a2a" stroke="#2a2a2a" stroke-width="0.34">GeneRatio</text>
<text x="430" y="15" font-size="9" text-anchor="middle" textLength="43.3" lengthAdjust="spacingAndGlyphs" fill="#2a2a2a" stroke="#2a2a2a" stroke-width="0.34">-Log<tspan font-size="6.2" dy="1.8">10</tspan><tspan dy="-1.8">(</tspan><tspan font-style="italic">P </tspan>value)</text>
<polyline fill="none" stroke="#000" stroke-width="0.9" points="387.2,40.9 387.6,49.7 388,58.5 388.7,67.3 389.3,76.1 391.7,84.9 398.7,93.7 403.7,102.5 403.7,111.3 460,120.1"/>
<circle cx="387.2" cy="40.9" r="1.6" fill="#000"/>
<circle cx="387.6" cy="49.7" r="1.6" fill="#000"/>
<circle cx="388" cy="58.5" r="1.6" fill="#000"/>
<circle cx="388.7" cy="67.3" r="1.6" fill="#000"/>
<circle cx="389.3" cy="76.1" r="1.6" fill="#000"/>
<circle cx="391.7" cy="84.9" r="1.6" fill="#000"/>
<circle cx="398.7" cy="93.7" r="1.6" fill="#000"/>
<circle cx="403.7" cy="102.5" r="1.6" fill="#000"/>
<circle cx="403.7" cy="111.3" r="1.6" fill="#000"/>
<circle cx="460" cy="120.1" r="1.6" fill="#000"/>
<rect x="436.30" y="42.60" width="5.90" height="5.50" fill="#e3097e"/>
<text x="446" y="47.5" font-size="6" textLength="27.8" lengthAdjust="spacingAndGlyphs" fill="#2a2a2a" stroke="none">GeneRatio</text>
<ellipse cx="439.2" cy="56.1" rx="3.2" ry="3.1" fill="#000"/>
<text x="446" y="58.1" font-size="6" textLength="41.5" lengthAdjust="spacingAndGlyphs" fill="#2a2a2a" stroke="none">−Log<tspan font-size="4" dy="1.2">10</tspan><tspan dy="-1.2">(</tspan><tspan font-style="italic">P</tspan>value)</text>
<rect x="42.50" y="190.00" width="11.45" height="9.05" fill="#9398d5"/>
<rect x="53.90" y="190.00" width="11.45" height="9.05" fill="#9398d5"/>
<rect x="65.30" y="190.00" width="11.35" height="9.05" fill="#2a4aaa"/>
<rect x="76.60" y="190.00" width="11.35" height="9.05" fill="#2a4aaa"/>
<rect x="42.50" y="199.00" width="11.45" height="9.05" fill="#9398d5"/>
<rect x="53.90" y="199.00" width="11.45" height="9.05" fill="#9398d5"/>
<rect x="65.30" y="199.00" width="11.35" height="9.05" fill="#2a4aaa"/>
<rect x="76.60" y="199.00" width="11.35" height="9.05" fill="#2a4aaa"/>
<rect x="42.50" y="208.00" width="11.45" height="9.05" fill="#9398d5"/>
<rect x="53.90" y="208.00" width="11.45" height="9.05" fill="#9398d5"/>
<rect x="65.30" y="208.00" width="11.35" height="9.05" fill="#2a4aaa"/>
<rect x="76.60" y="208.00" width="11.35" height="9.05" fill="#2a4aaa"/>
<rect x="42.50" y="217.00" width="11.45" height="9.05" fill="#9398d5"/>
<rect x="53.90" y="217.00" width="11.45" height="9.05" fill="#9da2da"/>
<rect x="65.30" y="217.00" width="11.35" height="9.05" fill="#2a4aaa"/>
<rect x="76.60" y="217.00" width="11.35" height="9.05" fill="#2a4aaa"/>
<rect x="42.50" y="226.00" width="11.45" height="9.05" fill="#8e93d3"/>
<rect x="53.90" y="226.00" width="11.45" height="9.05" fill="#9da2da"/>
<rect x="65.30" y="226.00" width="11.35" height="9.05" fill="#2a4aaa"/>
<rect x="76.60" y="226.00" width="11.35" height="9.05" fill="#2a4aaa"/>
<rect x="42.50" y="235.00" width="11.45" height="9.05" fill="#8e93d3"/>
<rect x="53.90" y="235.00" width="11.45" height="9.05" fill="#9398d5"/>
<rect x="65.30" y="235.00" width="11.35" height="9.05" fill="#2a4aaa"/>
<rect x="76.60" y="235.00" width="11.35" height="9.05" fill="#2a4aaa"/>
<rect x="42.50" y="244.00" width="11.45" height="9.05" fill="#9398d5"/>
<rect x="53.90" y="244.00" width="11.45" height="9.05" fill="#8e93d3"/>
<rect x="65.30" y="244.00" width="11.35" height="9.05" fill="#ee1a22"/>
<rect x="76.60" y="244.00" width="11.35" height="9.05" fill="#ee1a22"/>
<rect x="42.50" y="253.00" width="11.45" height="9.05" fill="#9398d5"/>
<rect x="53.90" y="253.00" width="11.45" height="9.05" fill="#8e93d3"/>
<rect x="65.30" y="253.00" width="11.35" height="9.05" fill="#fcd8d8"/>
<rect x="76.60" y="253.00" width="11.35" height="9.05" fill="#fcd8d8"/>
<rect x="42.50" y="262.00" width="11.45" height="9.05" fill="#9398d5"/>
<rect x="53.90" y="262.00" width="11.45" height="9.05" fill="#9398d5"/>
<rect x="65.30" y="262.00" width="11.35" height="9.05" fill="#fcd8d8"/>
<rect x="76.60" y="262.00" width="11.35" height="9.05" fill="#fcd8d8"/>
<rect x="42.50" y="271.00" width="11.45" height="9.05" fill="#9da2da"/>
<rect x="53.90" y="271.00" width="11.45" height="9.05" fill="#9398d5"/>
<rect x="65.30" y="271.00" width="11.35" height="9.05" fill="#fce0e0"/>
<rect x="76.60" y="271.00" width="11.35" height="9.05" fill="#fce0e0"/>
<rect x="42.50" y="280.00" width="11.45" height="9.05" fill="#9da2da"/>
<rect x="53.90" y="280.00" width="11.45" height="9.05" fill="#8e93d3"/>
<rect x="65.30" y="280.00" width="11.35" height="9.05" fill="#fce0e0"/>
<rect x="76.60" y="280.00" width="11.35" height="9.05" fill="#fce0e0"/>
<rect x="42.50" y="289.00" width="11.45" height="9.05" fill="#9398d5"/>
<rect x="53.90" y="289.00" width="11.45" height="9.05" fill="#858acf"/>
<rect x="65.30" y="289.00" width="11.35" height="9.05" fill="#fce0e0"/>
<rect x="76.60" y="289.00" width="11.35" height="9.05" fill="#fce0e0"/>
<rect x="42.50" y="298.00" width="11.45" height="9.05" fill="#9398d5"/>
<rect x="53.90" y="298.00" width="11.45" height="9.05" fill="#858acf"/>
<rect x="65.30" y="298.00" width="11.35" height="9.05" fill="#fde6e6"/>
<rect x="76.60" y="298.00" width="11.35" height="9.05" fill="#fde6e6"/>
<rect x="42.50" y="307.00" width="11.45" height="9.05" fill="#9da2da"/>
<rect x="53.90" y="307.00" width="11.45" height="9.05" fill="#8e93d3"/>
<rect x="65.30" y="307.00" width="11.35" height="9.05" fill="#fde6e6"/>
<rect x="76.60" y="307.00" width="11.35" height="9.05" fill="#fde6e6"/>
<rect x="42.50" y="316.00" width="11.45" height="9.05" fill="#9398d5"/>
<rect x="53.90" y="316.00" width="11.45" height="9.05" fill="#8e93d3"/>
<rect x="65.30" y="316.00" width="11.35" height="9.05" fill="#fde6e6"/>
<rect x="76.60" y="316.00" width="11.35" height="9.05" fill="#fde6e6"/>
<rect x="42.50" y="325.00" width="11.45" height="9.05" fill="#8e93d3"/>
<rect x="53.90" y="325.00" width="11.45" height="9.05" fill="#8e93d3"/>
<rect x="65.30" y="325.00" width="11.35" height="9.05" fill="#fdecec"/>
<rect x="76.60" y="325.00" width="11.35" height="9.05" fill="#fdecec"/>
<rect x="42.50" y="334.00" width="11.45" height="9.05" fill="#8e93d3"/>
<rect x="53.90" y="334.00" width="11.45" height="9.05" fill="#9398d5"/>
<rect x="65.30" y="334.00" width="11.35" height="9.05" fill="#fdecec"/>
<rect x="76.60" y="334.00" width="11.35" height="9.05" fill="#fdecec"/>
<rect x="42.50" y="343.00" width="11.45" height="9.05" fill="#8e93d3"/>
<rect x="53.90" y="343.00" width="11.45" height="9.05" fill="#9398d5"/>
<rect x="65.30" y="343.00" width="11.35" height="9.05" fill="#fdecec"/>
<rect x="76.60" y="343.00" width="11.35" height="9.05" fill="#fdecec"/>
<rect x="42.50" y="352.00" width="11.45" height="9.05" fill="#9398d5"/>
<rect x="53.90" y="352.00" width="11.45" height="9.05" fill="#9da2da"/>
<rect x="65.30" y="352.00" width="11.35" height="9.05" fill="#ee5560"/>
<rect x="76.60" y="352.00" width="11.35" height="9.05" fill="#ee4e5a"/>
<rect x="42.50" y="361.00" width="11.45" height="9.05" fill="#858acf"/>
<rect x="53.90" y="361.00" width="11.45" height="9.05" fill="#9398d5"/>
<rect x="65.30" y="361.00" width="11.35" height="9.05" fill="#f69aa0"/>
<rect x="76.60" y="361.00" width="11.35" height="9.05" fill="#f5969c"/>
<line x1="65.3" y1="190.0" x2="87.9" y2="190.0" stroke="#8ea0d2" stroke-width="0.6"/>
<line x1="65.3" y1="199.0" x2="87.9" y2="199.0" stroke="#8ea0d2" stroke-width="0.6"/>
<line x1="65.3" y1="208.0" x2="87.9" y2="208.0" stroke="#8ea0d2" stroke-width="0.6"/>
<line x1="65.3" y1="217.0" x2="87.9" y2="217.0" stroke="#8ea0d2" stroke-width="0.6"/>
<line x1="65.3" y1="226.0" x2="87.9" y2="226.0" stroke="#8ea0d2" stroke-width="0.6"/>
<line x1="65.3" y1="235.0" x2="87.9" y2="235.0" stroke="#8ea0d2" stroke-width="0.6"/>
<line x1="65.3" y1="244.0" x2="87.9" y2="244.0" stroke="#8ea0d2" stroke-width="0.6"/>
<line x1="65.3" y1="253.0" x2="87.9" y2="253.0" stroke="#d98a90" stroke-width="0.6"/>
<line x1="65.3" y1="262.0" x2="87.9" y2="262.0" stroke="#e0a6aa" stroke-width="0.6"/>
<line x1="65.3" y1="271.0" x2="87.9" y2="271.0" stroke="#e0a6aa" stroke-width="0.6"/>
<line x1="65.3" y1="280.0" x2="87.9" y2="280.0" stroke="#e0a6aa" stroke-width="0.6"/>
<line x1="65.3" y1="289.0" x2="87.9" y2="289.0" stroke="#e0a6aa" stroke-width="0.6"/>
<line x1="65.3" y1="298.0" x2="87.9" y2="298.0" stroke="#e0a6aa" stroke-width="0.6"/>
<line x1="65.3" y1="307.0" x2="87.9" y2="307.0" stroke="#e0a6aa" stroke-width="0.6"/>
<line x1="65.3" y1="316.0" x2="87.9" y2="316.0" stroke="#e0a6aa" stroke-width="0.6"/>
<line x1="65.3" y1="325.0" x2="87.9" y2="325.0" stroke="#e0a6aa" stroke-width="0.6"/>
<line x1="65.3" y1="334.0" x2="87.9" y2="334.0" stroke="#e0a6aa" stroke-width="0.6"/>
<line x1="65.3" y1="343.0" x2="87.9" y2="343.0" stroke="#e0a6aa" stroke-width="0.6"/>
<line x1="65.3" y1="352.0" x2="87.9" y2="352.0" stroke="#e0a6aa" stroke-width="0.6"/>
<line x1="65.3" y1="361.0" x2="87.9" y2="361.0" stroke="#d8606a" stroke-width="0.6"/>
<line x1="65.3" y1="370.0" x2="87.9" y2="370.0" stroke="#d8606a" stroke-width="0.6"/>
<line x1="76.6" y1="190.0" x2="76.6" y2="199.0" stroke="#7f94cf" stroke-width="0.65"/>
<line x1="65.3" y1="190.0" x2="65.3" y2="199.0" stroke="#7f94cf" stroke-width="0.35"/>
<line x1="87.9" y1="190.0" x2="87.9" y2="199.0" stroke="#7f94cf" stroke-width="0.35"/>
<line x1="76.6" y1="199.0" x2="76.6" y2="208.0" stroke="#7f94cf" stroke-width="0.65"/>
<line x1="65.3" y1="199.0" x2="65.3" y2="208.0" stroke="#7f94cf" stroke-width="0.35"/>
<line x1="87.9" y1="199.0" x2="87.9" y2="208.0" stroke="#7f94cf" stroke-width="0.35"/>
<line x1="76.6" y1="208.0" x2="76.6" y2="217.0" stroke="#7f94cf" stroke-width="0.65"/>
<line x1="65.3" y1="208.0" x2="65.3" y2="217.0" stroke="#7f94cf" stroke-width="0.35"/>
<line x1="87.9" y1="208.0" x2="87.9" y2="217.0" stroke="#7f94cf" stroke-width="0.35"/>
<line x1="76.6" y1="217.0" x2="76.6" y2="226.0" stroke="#7f94cf" stroke-width="0.65"/>
<line x1="65.3" y1="217.0" x2="65.3" y2="226.0" stroke="#7f94cf" stroke-width="0.35"/>
<line x1="87.9" y1="217.0" x2="87.9" y2="226.0" stroke="#7f94cf" stroke-width="0.35"/>
<line x1="76.6" y1="226.0" x2="76.6" y2="235.0" stroke="#7f94cf" stroke-width="0.65"/>
<line x1="65.3" y1="226.0" x2="65.3" y2="235.0" stroke="#7f94cf" stroke-width="0.35"/>
<line x1="87.9" y1="226.0" x2="87.9" y2="235.0" stroke="#7f94cf" stroke-width="0.35"/>
<line x1="76.6" y1="235.0" x2="76.6" y2="244.0" stroke="#7f94cf" stroke-width="0.65"/>
<line x1="65.3" y1="235.0" x2="65.3" y2="244.0" stroke="#7f94cf" stroke-width="0.35"/>
<line x1="87.9" y1="235.0" x2="87.9" y2="244.0" stroke="#7f94cf" stroke-width="0.35"/>
<line x1="76.6" y1="244.0" x2="76.6" y2="253.0" stroke="#f07a80" stroke-width="0.65"/>
<line x1="65.3" y1="244.0" x2="65.3" y2="253.0" stroke="#f07a80" stroke-width="0.35"/>
<line x1="87.9" y1="244.0" x2="87.9" y2="253.0" stroke="#f07a80" stroke-width="0.35"/>
<line x1="76.6" y1="253.0" x2="76.6" y2="262.0" stroke="#e6b0b4" stroke-width="0.65"/>
<line x1="65.3" y1="253.0" x2="65.3" y2="262.0" stroke="#e6b0b4" stroke-width="0.35"/>
<line x1="87.9" y1="253.0" x2="87.9" y2="262.0" stroke="#e6b0b4" stroke-width="0.35"/>
<line x1="76.6" y1="262.0" x2="76.6" y2="271.0" stroke="#e6b0b4" stroke-width="0.65"/>
<line x1="65.3" y1="262.0" x2="65.3" y2="271.0" stroke="#e6b0b4" stroke-width="0.35"/>
<line x1="87.9" y1="262.0" x2="87.9" y2="271.0" stroke="#e6b0b4" stroke-width="0.35"/>
<line x1="76.6" y1="271.0" x2="76.6" y2="280.0" stroke="#e6b0b4" stroke-width="0.65"/>
<line x1="65.3" y1="271.0" x2="65.3" y2="280.0" stroke="#e6b0b4" stroke-width="0.35"/>
<line x1="87.9" y1="271.0" x2="87.9" y2="280.0" stroke="#e6b0b4" stroke-width="0.35"/>
<line x1="76.6" y1="280.0" x2="76.6" y2="289.0" stroke="#e6b0b4" stroke-width="0.65"/>
<line x1="65.3" y1="280.0" x2="65.3" y2="289.0" stroke="#e6b0b4" stroke-width="0.35"/>
<line x1="87.9" y1="280.0" x2="87.9" y2="289.0" stroke="#e6b0b4" stroke-width="0.35"/>
<line x1="76.6" y1="289.0" x2="76.6" y2="298.0" stroke="#e6b0b4" stroke-width="0.65"/>
<line x1="65.3" y1="289.0" x2="65.3" y2="298.0" stroke="#e6b0b4" stroke-width="0.35"/>
<line x1="87.9" y1="289.0" x2="87.9" y2="298.0" stroke="#e6b0b4" stroke-width="0.35"/>
<line x1="76.6" y1="298.0" x2="76.6" y2="307.0" stroke="#e6b0b4" stroke-width="0.65"/>
<line x1="65.3" y1="298.0" x2="65.3" y2="307.0" stroke="#e6b0b4" stroke-width="0.35"/>
<line x1="87.9" y1="298.0" x2="87.9" y2="307.0" stroke="#e6b0b4" stroke-width="0.35"/>
<line x1="76.6" y1="307.0" x2="76.6" y2="316.0" stroke="#e6b0b4" stroke-width="0.65"/>
<line x1="65.3" y1="307.0" x2="65.3" y2="316.0" stroke="#e6b0b4" stroke-width="0.35"/>
<line x1="87.9" y1="307.0" x2="87.9" y2="316.0" stroke="#e6b0b4" stroke-width="0.35"/>
<line x1="76.6" y1="316.0" x2="76.6" y2="325.0" stroke="#e6b0b4" stroke-width="0.65"/>
<line x1="65.3" y1="316.0" x2="65.3" y2="325.0" stroke="#e6b0b4" stroke-width="0.35"/>
<line x1="87.9" y1="316.0" x2="87.9" y2="325.0" stroke="#e6b0b4" stroke-width="0.35"/>
<line x1="76.6" y1="325.0" x2="76.6" y2="334.0" stroke="#e6b0b4" stroke-width="0.65"/>
<line x1="65.3" y1="325.0" x2="65.3" y2="334.0" stroke="#e6b0b4" stroke-width="0.35"/>
<line x1="87.9" y1="325.0" x2="87.9" y2="334.0" stroke="#e6b0b4" stroke-width="0.35"/>
<line x1="76.6" y1="334.0" x2="76.6" y2="343.0" stroke="#e6b0b4" stroke-width="0.65"/>
<line x1="65.3" y1="334.0" x2="65.3" y2="343.0" stroke="#e6b0b4" stroke-width="0.35"/>
<line x1="87.9" y1="334.0" x2="87.9" y2="343.0" stroke="#e6b0b4" stroke-width="0.35"/>
<line x1="76.6" y1="343.0" x2="76.6" y2="352.0" stroke="#e6b0b4" stroke-width="0.65"/>
<line x1="65.3" y1="343.0" x2="65.3" y2="352.0" stroke="#e6b0b4" stroke-width="0.35"/>
<line x1="87.9" y1="343.0" x2="87.9" y2="352.0" stroke="#e6b0b4" stroke-width="0.35"/>
<line x1="76.6" y1="352.0" x2="76.6" y2="361.0" stroke="#d8606a" stroke-width="0.65"/>
<line x1="65.3" y1="352.0" x2="65.3" y2="361.0" stroke="#d8606a" stroke-width="0.35"/>
<line x1="87.9" y1="352.0" x2="87.9" y2="361.0" stroke="#d8606a" stroke-width="0.35"/>
<line x1="76.6" y1="361.0" x2="76.6" y2="370.0" stroke="#d8606a" stroke-width="0.65"/>
<line x1="65.3" y1="361.0" x2="65.3" y2="370.0" stroke="#d8606a" stroke-width="0.35"/>
<line x1="87.9" y1="361.0" x2="87.9" y2="370.0" stroke="#d8606a" stroke-width="0.35"/>
<text x="0" y="0" font-size="8.3" fill="#1c1c1c" transform="translate(91.1,197.4) scale(0.905,1)" stroke="#1c1c1c" stroke-width="0.2">TNS4</text>
<text x="0" y="0" font-size="8.3" fill="#1c1c1c" transform="translate(91.1,206.4) scale(0.905,1)" stroke="#1c1c1c" stroke-width="0.2">GOLM1</text>
<text x="0" y="0" font-size="8.3" fill="#1c1c1c" transform="translate(91.1,215.4) scale(0.905,1)" stroke="#1c1c1c" stroke-width="0.2">LY86−AS</text>
<text x="0" y="0" font-size="8.3" fill="#1c1c1c" transform="translate(91.1,224.4) scale(0.905,1)" stroke="#1c1c1c" stroke-width="0.2">ANO3</text>
<text x="0" y="0" font-size="8.3" fill="#1c1c1c" transform="translate(91.1,233.4) scale(0.905,1)" stroke="#1c1c1c" stroke-width="0.2">SNTG2</text>
<text x="0" y="0" font-size="8.3" fill="#1c1c1c" transform="translate(91.1,242.4) scale(0.905,1)" stroke="#1c1c1c" stroke-width="0.2">SAMD12</text>
<text x="0" y="0" font-size="8.3" fill="#1c1c1c" transform="translate(91.1,251.4) scale(0.905,1)" stroke="#1c1c1c" stroke-width="0.2">PRF1</text>
<text x="0" y="0" font-size="8.3" fill="#1c1c1c" transform="translate(91.1,260.4) scale(0.905,1)" stroke="#1c1c1c" stroke-width="0.2">OAS2</text>
<text x="0" y="0" font-size="8.3" fill="#1c1c1c" transform="translate(91.1,269.4) scale(0.905,1)" stroke="#1c1c1c" stroke-width="0.2">LAPTM5</text>
<text x="0" y="0" font-size="8.3" fill="#1c1c1c" transform="translate(91.1,278.4) scale(0.905,1)" stroke="#1c1c1c" stroke-width="0.2">HELZ2</text>
<text x="0" y="0" font-size="8.3" fill="#1c1c1c" transform="translate(91.1,287.4) scale(0.905,1)" stroke="#1c1c1c" stroke-width="0.2">FAT3</text>
<text x="0" y="0" font-size="8.3" fill="#1c1c1c" transform="translate(91.1,296.4) scale(0.905,1)" stroke="#1c1c1c" stroke-width="0.2">RASAL2</text>
<text x="0" y="0" font-size="8.3" fill="#1c1c1c" transform="translate(91.1,305.4) scale(0.905,1)" stroke="#1c1c1c" stroke-width="0.2">MICAL2</text>
<text x="0" y="0" font-size="8.3" fill="#1c1c1c" transform="translate(91.1,314.4) scale(0.905,1)" stroke="#1c1c1c" stroke-width="0.2">IL17F</text>
<text x="0" y="0" font-size="8.3" fill="#1c1c1c" transform="translate(91.1,323.4) scale(0.905,1)" stroke="#1c1c1c" stroke-width="0.2">PARP14</text>
<text x="0" y="0" font-size="8.3" fill="#1c1c1c" transform="translate(91.1,332.4) scale(0.905,1)" stroke="#1c1c1c" stroke-width="0.2">DISC1</text>
<text x="0" y="0" font-size="8.3" fill="#1c1c1c" transform="translate(91.1,341.4) scale(0.905,1)" stroke="#1c1c1c" stroke-width="0.2">ABCA13</text>
<text x="0" y="0" font-size="8.3" fill="#1c1c1c" transform="translate(91.1,350.4) scale(0.905,1)" stroke="#1c1c1c" stroke-width="0.2">IFI44</text>
<text x="0" y="0" font-size="8.3" fill="#1c1c1c" transform="translate(91.1,359.4) scale(0.905,1)" stroke="#1c1c1c" stroke-width="0.2">COL5A1</text>
<text x="0" y="0" font-size="8.3" fill="#1c1c1c" transform="translate(91.1,368.4) scale(0.905,1)" stroke="#1c1c1c" stroke-width="0.2">IFI6</text>
<g transform="translate(46.4,371.9) rotate(90)">
<text x="0" y="0" font-size="7.5" textLength="41.6" lengthAdjust="spacingAndGlyphs" fill="#2c2c2c" stroke="none">shscramble1</text>
</g>
<g transform="translate(57.7,371.9) rotate(90)">
<text x="0" y="0" font-size="7.5" textLength="41.6" lengthAdjust="spacingAndGlyphs" fill="#2c2c2c" stroke="none">shscramble2</text>
</g>
<g transform="translate(68.3,371.9) rotate(90)">
<text x="0" y="0" font-size="7.5" textLength="41.9" lengthAdjust="spacingAndGlyphs" fill="#2c2c2c" stroke="none">shGOLM1-1</text>
</g>
<g transform="translate(79.7,371.9) rotate(90)">
<text x="0" y="0" font-size="7.5" textLength="41.5" lengthAdjust="spacingAndGlyphs" fill="#2c2c2c" stroke="none">shGOLM1-2</text>
</g>
<path d="M40.2 208.5 H17.3 V282 H30.7 M42.5 248.5 H30.7 V317.7 H37 M40 279.6 H37 V360 H40.4 M42.5 356.5 H40.4 V365.5 H42.5" fill="none" stroke="#333" stroke-width="0.85"/>
<path d="M42.5 194.5 H41.3 V203.5 H42.5 M41.3 199 H40.6 V212.5 H42.5 M40.6 206 H40.2 V226 H41.2 M42.5 221.5 H41.2 V230.5 H42.5 M41.2 226 V239.5 H42.5" fill="none" stroke="#333" stroke-width="0.7"/>
<path d="M42.5 257.5 H41.5 V266.5 H42.5 M41.5 262 H40.8 V275.5 H42.5 M40.8 270 H40 V300 H40.8 V284.5 H42.5 M40.8 293.5 H42.5 M40.8 300 V320.5 H42.5 M40.8 302.5 H42.5 M40.8 311.5 H42.5 M41.4 329.5 H42.5 M41.4 329.5 V347.5 H42.5 M41.4 338.5 H42.5 M40.8 320.5 V338.5 H41.4" fill="none" stroke="#333" stroke-width="0.7"/>
<line x1="41.9" y1="257" x2="41.9" y2="346" stroke="#1c2a66" stroke-width="0.9"/>
<line x1="41.6" y1="193" x2="41.6" y2="240" stroke="#555b9a" stroke-width="0.8"/>
<defs><linearGradient id="gC" x1="0" y1="0" x2="0" y2="1">
<stop offset="0" stop-color="#e31a22"/><stop offset="0.25" stop-color="#f0787c"/><stop offset="0.5" stop-color="#ffffff"/><stop offset="0.75" stop-color="#969fd6"/><stop offset="1" stop-color="#2b41ad"/></linearGradient>
<linearGradient id="gD" x1="0" y1="0" x2="0" y2="1">
<stop offset="0" stop-color="#e31a22"/><stop offset="0.25" stop-color="#f0787c"/><stop offset="0.5" stop-color="#ffffff"/><stop offset="0.75" stop-color="#969fd6"/><stop offset="1" stop-color="#2b41ad"/></linearGradient></defs>
<rect x="129.80" y="189.70" width="8.30" height="112.00" fill="url(#gC)"/>
<text x="140.2" y="192.7" font-size="7" fill="#222" stroke="#222" stroke-width="0.2">6</text>
<text x="140.2" y="218.9" font-size="7" fill="#222" stroke="#222" stroke-width="0.2">4</text>
<text x="140.2" y="245.0" font-size="7" fill="#222" stroke="#222" stroke-width="0.2">2</text>
<text x="140.2" y="271.2" font-size="7" fill="#222" stroke="#222" stroke-width="0.2">0</text>
<text x="140.2" y="297.3" font-size="7" fill="#222" stroke="#222" stroke-width="0.2">−2</text>
<rect x="200.00" y="190.00" width="11.30" height="9.05" fill="#ffffff"/>
<rect x="211.25" y="190.00" width="11.30" height="9.05" fill="#ffffff"/>
<rect x="222.50" y="190.00" width="11.30" height="9.05" fill="#d6d6ef"/>
<rect x="233.75" y="190.00" width="11.30" height="9.05" fill="#c4c4e8"/>
<rect x="200.00" y="199.00" width="11.30" height="9.05" fill="#ffffff"/>
<rect x="211.25" y="199.00" width="11.30" height="9.05" fill="#ffffff"/>
<rect x="222.50" y="199.00" width="11.30" height="9.05" fill="#e0e0f3"/>
<rect x="233.75" y="199.00" width="11.30" height="9.05" fill="#dcdcf1"/>
<rect x="200.00" y="208.00" width="11.30" height="9.05" fill="#ffffff"/>
<rect x="211.25" y="208.00" width="11.30" height="9.05" fill="#ffffff"/>
<rect x="222.50" y="208.00" width="11.30" height="9.05" fill="#e3e3f4"/>
<rect x="233.75" y="208.00" width="11.30" height="9.05" fill="#e3e3f4"/>
<rect x="200.00" y="217.00" width="11.30" height="9.05" fill="#ffffff"/>
<rect x="211.25" y="217.00" width="11.30" height="9.05" fill="#ffffff"/>
<rect x="222.50" y="217.00" width="11.30" height="9.05" fill="#e4e4f5"/>
<rect x="233.75" y="217.00" width="11.30" height="9.05" fill="#ebebf8"/>
<rect x="200.00" y="226.00" width="11.30" height="9.05" fill="#f6f6fc"/>
<rect x="211.25" y="226.00" width="11.30" height="9.05" fill="#ffffff"/>
<rect x="222.50" y="226.00" width="11.30" height="9.05" fill="#ededf8"/>
<rect x="233.75" y="226.00" width="11.30" height="9.05" fill="#efeffa"/>
<rect x="200.00" y="235.00" width="11.30" height="9.05" fill="#ffffff"/>
<rect x="211.25" y="235.00" width="11.30" height="9.05" fill="#ffffff"/>
<rect x="222.50" y="235.00" width="11.30" height="9.05" fill="#f1f1fa"/>
<rect x="233.75" y="235.00" width="11.30" height="9.05" fill="#f3f3fb"/>
<rect x="200.00" y="244.00" width="11.30" height="9.05" fill="#ffffff"/>
<rect x="211.25" y="244.00" width="11.30" height="9.05" fill="#f0f0fa"/>
<rect x="222.50" y="244.00" width="11.30" height="9.05" fill="#fdf3f3"/>
<rect x="233.75" y="244.00" width="11.30" height="9.05" fill="#f8f8fd"/>
<rect x="200.00" y="253.00" width="11.30" height="9.05" fill="#ffffff"/>
<rect x="211.25" y="253.00" width="11.30" height="9.05" fill="#ffffff"/>
<rect x="222.50" y="253.00" width="11.30" height="9.05" fill="#fdecec"/>
<rect x="233.75" y="253.00" width="11.30" height="9.05" fill="#fef4f4"/>
<rect x="200.00" y="262.00" width="11.30" height="9.05" fill="#ffffff"/>
<rect x="211.25" y="262.00" width="11.30" height="9.05" fill="#ffffff"/>
<rect x="222.50" y="262.00" width="11.30" height="9.05" fill="#fdeeee"/>
<rect x="233.75" y="262.00" width="11.30" height="9.05" fill="#fef1f1"/>
<rect x="200.00" y="271.00" width="11.30" height="9.05" fill="#fef7f7"/>
<rect x="211.25" y="271.00" width="11.30" height="9.05" fill="#ffffff"/>
<rect x="222.50" y="271.00" width="11.30" height="9.05" fill="#fdeeee"/>
<rect x="233.75" y="271.00" width="11.30" height="9.05" fill="#fef1f1"/>
<rect x="200.00" y="280.00" width="11.30" height="9.05" fill="#ffffff"/>
<rect x="211.25" y="280.00" width="11.30" height="9.05" fill="#ffffff"/>
<rect x="222.50" y="280.00" width="11.30" height="9.05" fill="#fdf0f0"/>
<rect x="233.75" y="280.00" width="11.30" height="9.05" fill="#fef1f1"/>
<rect x="200.00" y="289.00" width="11.30" height="9.05" fill="#ffffff"/>
<rect x="211.25" y="289.00" width="11.30" height="9.05" fill="#ffffff"/>
<rect x="222.50" y="289.00" width="11.30" height="9.05" fill="#fef1f1"/>
<rect x="233.75" y="289.00" width="11.30" height="9.05" fill="#fdf0f0"/>
<rect x="200.00" y="298.00" width="11.30" height="9.05" fill="#fdf0f0"/>
<rect x="211.25" y="298.00" width="11.30" height="9.05" fill="#ececf8"/>
<rect x="222.50" y="298.00" width="11.30" height="9.05" fill="#fcdede"/>
<rect x="233.75" y="298.00" width="11.30" height="9.05" fill="#fde3e3"/>
<rect x="200.00" y="307.00" width="11.30" height="9.05" fill="#fef4f4"/>
<rect x="211.25" y="307.00" width="11.30" height="9.05" fill="#ffffff"/>
<rect x="222.50" y="307.00" width="11.30" height="9.05" fill="#fcdada"/>
<rect x="233.75" y="307.00" width="11.30" height="9.05" fill="#fde0e0"/>
<rect x="200.00" y="316.00" width="11.30" height="9.05" fill="#fdf0f0"/>
<rect x="211.25" y="316.00" width="11.30" height="9.05" fill="#ffffff"/>
<rect x="222.50" y="316.00" width="11.30" height="9.05" fill="#fde2e2"/>
<rect x="233.75" y="316.00" width="11.30" height="9.05" fill="#fcd8d8"/>
<rect x="200.00" y="325.00" width="11.30" height="9.05" fill="#fef2f2"/>
<rect x="211.25" y="325.00" width="11.30" height="9.05" fill="#ffffff"/>
<rect x="222.50" y="325.00" width="11.30" height="9.05" fill="#fcd8d8"/>
<rect x="233.75" y="325.00" width="11.30" height="9.05" fill="#fcdcdc"/>
<rect x="200.00" y="334.00" width="11.30" height="9.05" fill="#ffffff"/>
<rect x="211.25" y="334.00" width="11.30" height="9.05" fill="#ffffff"/>
<rect x="222.50" y="334.00" width="11.30" height="9.05" fill="#fde4e4"/>
<rect x="233.75" y="334.00" width="11.30" height="9.05" fill="#fde8e8"/>
<rect x="200.00" y="343.00" width="11.30" height="9.05" fill="#fdeaea"/>
<rect x="211.25" y="343.00" width="11.30" height="9.05" fill="#e8e8f7"/>
<rect x="222.50" y="343.00" width="11.30" height="9.05" fill="#f6b2b7"/>
<rect x="233.75" y="343.00" width="11.30" height="9.05" fill="#f7babf"/>
<rect x="200.00" y="352.00" width="11.30" height="9.05" fill="#fdecec"/>
<rect x="211.25" y="352.00" width="11.30" height="9.05" fill="#fbfbfe"/>
<rect x="222.50" y="352.00" width="11.30" height="9.05" fill="#f4a8ae"/>
<rect x="233.75" y="352.00" width="11.30" height="9.05" fill="#f7bcc1"/>
<rect x="200.00" y="361.00" width="11.30" height="9.05" fill="#fdf0f0"/>
<rect x="211.25" y="361.00" width="11.30" height="9.05" fill="#ffffff"/>
<rect x="222.50" y="361.00" width="11.30" height="9.05" fill="#f7bcc1"/>
<rect x="233.75" y="361.00" width="11.30" height="9.05" fill="#f8c2c6"/>
<line x1="200.0" y1="190.0" x2="245.0" y2="190.0" stroke="#8c8c96" stroke-width="0.55"/>
<line x1="200.0" y1="199.0" x2="245.0" y2="199.0" stroke="#8c8c96" stroke-width="0.55"/>
<line x1="200.0" y1="208.0" x2="245.0" y2="208.0" stroke="#8c8c96" stroke-width="0.55"/>
<line x1="200.0" y1="217.0" x2="245.0" y2="217.0" stroke="#8c8c96" stroke-width="0.55"/>
<line x1="200.0" y1="226.0" x2="245.0" y2="226.0" stroke="#8c8c96" stroke-width="0.55"/>
<line x1="200.0" y1="235.0" x2="245.0" y2="235.0" stroke="#8c8c96" stroke-width="0.55"/>
<line x1="200.0" y1="244.0" x2="245.0" y2="244.0" stroke="#8c8c96" stroke-width="0.55"/>
<line x1="200.0" y1="253.0" x2="245.0" y2="253.0" stroke="#8c8c96" stroke-width="0.55"/>
<line x1="200.0" y1="262.0" x2="245.0" y2="262.0" stroke="#8c8c96" stroke-width="0.55"/>
<line x1="200.0" y1="271.0" x2="245.0" y2="271.0" stroke="#8c8c96" stroke-width="0.55"/>
<line x1="200.0" y1="280.0" x2="245.0" y2="280.0" stroke="#8c8c96" stroke-width="0.55"/>
<line x1="200.0" y1="289.0" x2="245.0" y2="289.0" stroke="#8c8c96" stroke-width="0.55"/>
<line x1="200.0" y1="298.0" x2="245.0" y2="298.0" stroke="#8c8c96" stroke-width="0.55"/>
<line x1="200.0" y1="307.0" x2="245.0" y2="307.0" stroke="#8c8c96" stroke-width="0.55"/>
<line x1="200.0" y1="316.0" x2="245.0" y2="316.0" stroke="#8c8c96" stroke-width="0.55"/>
<line x1="200.0" y1="325.0" x2="245.0" y2="325.0" stroke="#8c8c96" stroke-width="0.55"/>
<line x1="200.0" y1="334.0" x2="245.0" y2="334.0" stroke="#8c8c96" stroke-width="0.55"/>
<line x1="200.0" y1="343.0" x2="245.0" y2="343.0" stroke="#8c8c96" stroke-width="0.55"/>
<line x1="200.0" y1="352.0" x2="245.0" y2="352.0" stroke="#8c8c96" stroke-width="0.55"/>
<line x1="200.0" y1="361.0" x2="245.0" y2="361.0" stroke="#8c8c96" stroke-width="0.55"/>
<line x1="200.0" y1="370.0" x2="245.0" y2="370.0" stroke="#8c8c96" stroke-width="0.55"/>
<line x1="200.0" y1="190.0" x2="200.0" y2="370.0" stroke="#8c8c96" stroke-width="0.55"/>
<line x1="211.25" y1="190.0" x2="211.25" y2="370.0" stroke="#8c8c96" stroke-width="0.55"/>
<line x1="222.5" y1="190.0" x2="222.5" y2="370.0" stroke="#8c8c96" stroke-width="0.55"/>
<line x1="233.75" y1="190.0" x2="233.75" y2="370.0" stroke="#8c8c96" stroke-width="0.55"/>
<line x1="245.0" y1="190.0" x2="245.0" y2="370.0" stroke="#8c8c96" stroke-width="0.55"/>
<text x="0" y="0" font-size="8.3" fill="#1c1c1c" transform="translate(247.9,197.4) scale(0.905,1)" stroke="#1c1c1c" stroke-width="0.2">TN53</text>
<text x="0" y="0" font-size="8.3" fill="#1c1c1c" transform="translate(247.9,206.4) scale(0.905,1)" stroke="#1c1c1c" stroke-width="0.2">PARP1</text>
<text x="0" y="0" font-size="8.3" fill="#1c1c1c" transform="translate(247.9,215.4) scale(0.905,1)" stroke="#1c1c1c" stroke-width="0.2">CASP9</text>
<text x="0" y="0" font-size="8.3" fill="#1c1c1c" transform="translate(247.9,224.4) scale(0.905,1)" stroke="#1c1c1c" stroke-width="0.2">BAX</text>
<text x="0" y="0" font-size="8.3" fill="#1c1c1c" transform="translate(247.9,233.4) scale(0.905,1)" stroke="#1c1c1c" stroke-width="0.2">BAD</text>
<text x="0" y="0" font-size="8.3" fill="#1c1c1c" transform="translate(247.9,242.4) scale(0.905,1)" stroke="#1c1c1c" stroke-width="0.2">APAF1</text>
<text x="0" y="0" font-size="8.3" fill="#1c1c1c" transform="translate(247.9,251.4) scale(0.905,1)" stroke="#1c1c1c" stroke-width="0.2">BCL-X<tspan font-size="5" dy="1.5">L</tspan></text>
<text x="0" y="0" font-size="8.3" fill="#1c1c1c" transform="translate(247.9,260.4) scale(0.905,1)" stroke="#1c1c1c" stroke-width="0.2">CASP3</text>
<text x="0" y="0" font-size="8.3" fill="#1c1c1c" transform="translate(247.9,269.4) scale(0.905,1)" stroke="#1c1c1c" stroke-width="0.2">CASP8</text>
<text x="0" y="0" font-size="8.3" fill="#1c1c1c" transform="translate(247.9,278.4) scale(0.905,1)" stroke="#1c1c1c" stroke-width="0.2">BCL2</text>
<text x="0" y="0" font-size="8.3" fill="#1c1c1c" transform="translate(247.9,287.4) scale(0.905,1)" stroke="#1c1c1c" stroke-width="0.2">ICE1</text>
<text x="0" y="0" font-size="8.3" fill="#1c1c1c" transform="translate(247.9,296.4) scale(0.905,1)" stroke="#1c1c1c" stroke-width="0.2">BCL2L2</text>
<text x="0" y="0" font-size="8.3" fill="#1c1c1c" transform="translate(247.9,305.4) scale(0.905,1)" stroke="#1c1c1c" stroke-width="0.2">ATM</text>
<text x="0" y="0" font-size="8.3" fill="#1c1c1c" transform="translate(247.9,314.4) scale(0.905,1)" stroke="#1c1c1c" stroke-width="0.2">MCL1</text>
<text x="0" y="0" font-size="8.3" fill="#1c1c1c" transform="translate(247.9,323.4) scale(0.905,1)" stroke="#1c1c1c" stroke-width="0.2">BAK1</text>
<text x="0" y="0" font-size="8.3" fill="#1c1c1c" transform="translate(247.9,332.4) scale(0.905,1)" stroke="#1c1c1c" stroke-width="0.2">CIAPIN1</text>
<text x="0" y="0" font-size="8.3" fill="#1c1c1c" transform="translate(247.9,341.4) scale(0.905,1)" stroke="#1c1c1c" stroke-width="0.2">MYC</text>
<text x="0" y="0" font-size="8.3" fill="#1c1c1c" transform="translate(247.9,350.4) scale(0.905,1)" stroke="#1c1c1c" stroke-width="0.2">FAS</text>
<text x="0" y="0" font-size="8.3" fill="#1c1c1c" transform="translate(247.9,359.4) scale(0.905,1)" stroke="#1c1c1c" stroke-width="0.2">TNFSF10</text>
<text x="0" y="0" font-size="8.3" fill="#1c1c1c" transform="translate(247.9,368.4) scale(0.905,1)" stroke="#1c1c1c" stroke-width="0.2">CASP7</text>
<g transform="translate(204.7,372.1) rotate(90)">
<text x="0" y="0" font-size="7.5" textLength="41.4" lengthAdjust="spacingAndGlyphs" fill="#2c2c2c" stroke="none">shscramble1</text>
</g>
<g transform="translate(215.5,372.1) rotate(90)">
<text x="0" y="0" font-size="7.5" textLength="42" lengthAdjust="spacingAndGlyphs" fill="#2c2c2c" stroke="none">shscramble2</text>
</g>
<g transform="translate(225.5,372.1) rotate(90)">
<text x="0" y="0" font-size="7.5" textLength="41.7" lengthAdjust="spacingAndGlyphs" fill="#2c2c2c" stroke="none">shGOLM1-1</text>
</g>
<g transform="translate(236.8,372.1) rotate(90)">
<text x="0" y="0" font-size="7.5" textLength="42" lengthAdjust="spacingAndGlyphs" fill="#2c2c2c" stroke="none">shGOLM1-2</text>
</g>
<path d="M188.5 215.4 H174.9 V337.6 H187.6" fill="none" stroke="#333" stroke-width="0.85"/>
<path d="M200 194.5 H188.5 V235.6 H192.5 M196.9 216.5 H192.5 V255 H196.1" fill="none" stroke="#333" stroke-width="0.8"/>
<path d="M198.6 208.2 H196.9 V225.5 H198.6 M200 203.5 H198.6 V212.5 H200 M200 221.5 H198.6 V230.5 H200" fill="none" stroke="#333" stroke-width="0.75"/>
<path d="M198.6 244 H196.1 V266 H197.3 M200 239.5 H198.6 V248.5 H200 M200 257.5 H197.3 V270 H198 M200 266.5 H198 V277 H198.6 M200 275.5 H198.6 V286 H199.2 M200 284.5 H199.2 V293.5 H200" fill="none" stroke="#333" stroke-width="0.75"/>
<path d="M195.7 321.4 H187.6 V354.2 H193.4 M200 347.5 H193.4 V360.5 H197.1 M200 356.5 H197.1 V365.5 H200" fill="none" stroke="#333" stroke-width="0.8"/>
<path d="M197.5 309.2 H195.7 V333 H196.6 M200 302.5 H197.5 V316 H198.6 M200 311.5 H198.6 V320.5 H200 M200 329.5 H196.6 V338.5 H200" fill="none" stroke="#333" stroke-width="0.75"/>
<rect x="284.80" y="190.20" width="8.30" height="110.60" fill="url(#gD)"/>
<text x="294.6" y="193.5" font-size="7" fill="#222" stroke="#222" stroke-width="0.2">2</text>
<text x="294.6" y="220.7" font-size="7" fill="#222" stroke="#222" stroke-width="0.2">1</text>
<text x="294.6" y="247.9" font-size="7" fill="#222" stroke="#222" stroke-width="0.2">0</text>
<text x="294.6" y="275.1" font-size="7" fill="#222" stroke="#222" stroke-width="0.2">−1</text>
<text x="294.6" y="301.5" font-size="7" fill="#222" stroke="#222" stroke-width="0.2">−2</text>
<defs>
<filter id="b05" x="-20%" y="-50%" width="140%" height="200%"><feGaussianBlur stdDeviation="0.5"/></filter>
<filter id="b08" x="-20%" y="-50%" width="140%" height="200%"><feGaussianBlur stdDeviation="0.8"/></filter>
<filter id="b12" x="-20%" y="-80%" width="140%" height="260%"><feGaussianBlur stdDeviation="1.2"/></filter>
<filter id="b20" x="-30%" y="-100%" width="160%" height="300%"><feGaussianBlur stdDeviation="2"/></filter>
<filter id="b30" x="-30%" y="-100%" width="160%" height="300%"><feGaussianBlur stdDeviation="3"/></filter>
</defs>
<clipPath id="cb0"><rect x="366.5" y="210.7" width="147.0" height="16.400000000000006"/></clipPath>
<clipPath id="cb1"><rect x="366.5" y="233.8" width="147.0" height="16.69999999999999"/></clipPath>
<clipPath id="cb2"><rect x="366.5" y="257.3" width="147.0" height="16.899999999999977"/></clipPath>
<clipPath id="cb3"><rect x="366.5" y="280.6" width="147.0" height="16.5"/></clipPath>
<clipPath id="cb4"><rect x="366.5" y="302.8" width="147.0" height="16.19999999999999"/></clipPath>
<clipPath id="cb5"><rect x="366.5" y="324.8" width="147.0" height="19.80000000000001"/></clipPath>
<clipPath id="cb6"><rect x="366.5" y="349.4" width="147.0" height="16.200000000000045"/></clipPath>
<text x="405.2" y="198.2" font-size="7.8" text-anchor="middle" fill="#1a1a1a" stroke="#1a1a1a" stroke-width="0.2">DMSO</text>
<text x="468.6" y="198.2" font-size="7.8" text-anchor="middle" fill="#1a1a1a" stroke="#1a1a1a" stroke-width="0.2">STS</text>
<line x1="368.8" y1="200.2" x2="432" y2="200.2" stroke="#1a1a1a" stroke-width="1.0"/>
<line x1="441.6" y1="200.2" x2="506.8" y2="200.2" stroke="#1a1a1a" stroke-width="1.0"/>
<text x="372.4" y="208" font-size="7.3" textLength="24.6" lengthAdjust="spacingAndGlyphs" fill="#222" stroke="#222" stroke-width="0.2">Control</text>
<text x="406.2" y="208" font-size="7.3" textLength="28" lengthAdjust="spacingAndGlyphs" fill="#222" stroke="#222" stroke-width="0.2">GOLM1</text>
<text x="445" y="208" font-size="7.3" textLength="24.6" lengthAdjust="spacingAndGlyphs" fill="#222" stroke="#222" stroke-width="0.2">Control</text>
<text x="479.6" y="208" font-size="7.3" textLength="28" lengthAdjust="spacingAndGlyphs" fill="#222" stroke="#222" stroke-width="0.2">GOLM1</text>
<text x="346.2" y="210.7" font-size="7.6" fill="#1a1a1a" stroke="#1a1a1a" stroke-width="0.2">IB:</text>
<text x="363.4" y="224.4" font-size="7.8" text-anchor="end" textLength="26" lengthAdjust="spacingAndGlyphs" fill="#1a1a1a" stroke="#1a1a1a" stroke-width="0.2">PARP-1</text>
<text x="363.4" y="245.2" font-size="7.8" text-anchor="end" textLength="27.6" lengthAdjust="spacingAndGlyphs" fill="#1a1a1a" stroke="#1a1a1a" stroke-width="0.2">GOLM1</text>
<text x="363.4" y="269.2" font-size="7.8" text-anchor="end" textLength="26.8" lengthAdjust="spacingAndGlyphs" fill="#1a1a1a" stroke="#1a1a1a" stroke-width="0.2">BCL-X<tspan font-size="5.2" dy="1.5">L</tspan></text>
<text x="363.4" y="292.3" font-size="7.8" text-anchor="end" textLength="22.4" lengthAdjust="spacingAndGlyphs" fill="#1a1a1a" stroke="#1a1a1a" stroke-width="0.2">BCL-2</text>
<text x="363.4" y="313.9" font-size="7.8" text-anchor="end" textLength="23.6" lengthAdjust="spacingAndGlyphs" fill="#1a1a1a" stroke="#1a1a1a" stroke-width="0.2">MCL-1</text>
<text x="363.4" y="333.4" font-size="7.8" text-anchor="end" textLength="27.8" lengthAdjust="spacingAndGlyphs" fill="#1a1a1a" stroke="#1a1a1a" stroke-width="0.2">Cleaved</text>
<text x="363.4" y="342.1" font-size="7.8" text-anchor="end" textLength="37" lengthAdjust="spacingAndGlyphs" fill="#1a1a1a" stroke="#1a1a1a" stroke-width="0.2">Caspase 3</text>
<text x="363.4" y="361.1" font-size="7.8" text-anchor="end" textLength="22.6" lengthAdjust="spacingAndGlyphs" fill="#1a1a1a" stroke="#1a1a1a" stroke-width="0.2">β-actin</text>
<g clip-path="url(#cb0)">
<rect x="366.50" y="210.70" width="147.00" height="16.40" fill="#d2d2d4"/>
<rect x="360.0" y="210.8" width="160" height="3.5" rx="1.75" fill="#cbcbcb" opacity="0.9" filter="url(#b12)"/>
<rect x="360.0" y="217.0" width="160" height="5" rx="2.5" fill="#e3e3e3" opacity="0.9" filter="url(#b12)"/>
<rect x="369.7" y="213.7" width="29" height="2.7" rx="1.35" fill="#141414" opacity="1" filter="url(#b05)"/>
<rect x="407.1" y="213.7" width="28.5" height="2.9" rx="1.45" fill="#101010" opacity="1" filter="url(#b05)"/>
<rect x="444.1" y="213.3" width="25" height="1.8" rx="0.9" fill="#7c7c7c" opacity="0.85" filter="url(#b08)"/>
<rect x="479.5" y="213.6" width="31" height="2.9" rx="1.45" fill="#101010" opacity="1" filter="url(#b05)"/>
<rect x="372.0" y="222.8" width="26" height="1.5" rx="0.75" fill="#a0a0a0" opacity="0.7" filter="url(#b08)"/>
<rect x="409.0" y="222.8" width="26" height="1.5" rx="0.75" fill="#a8a8a8" opacity="0.6" filter="url(#b08)"/>
<rect x="442.5" y="222.4" width="29" height="2.8" rx="1.4" fill="#181818" opacity="1" filter="url(#b05)"/>
<rect x="481.0" y="223.0" width="28" height="2.0" rx="1.0" fill="#4c4c4c" opacity="0.95" filter="url(#b08)"/>
</g>
<rect x="366.5" y="210.7" width="147.0" height="16.400000000000006" fill="none" stroke="#000" stroke-width="1.4"/>
<g clip-path="url(#cb1)">
<rect x="366.50" y="233.80" width="147.00" height="16.70" fill="#e6e6e6"/>
<rect x="360.0" y="233.5" width="160" height="5" rx="2.5" fill="#f3f3f3" opacity="0.9" filter="url(#b12)"/>
<rect x="366.0" y="242.2" width="40" height="6.5" rx="3.25" fill="#a9a9a9" opacity="0.85" filter="url(#b20)"/>
<rect x="439.0" y="242.5" width="36" height="6" rx="3.0" fill="#b4b4b4" opacity="0.85" filter="url(#b20)"/>
<rect x="406.1" y="235.0" width="30.5" height="15.4" rx="5.5" fill="#030303" opacity="1" filter="url(#b08)"/>
<rect x="403.3" y="235.2" width="36" height="7.4" rx="3.7" fill="#000" opacity="1" filter="url(#b08)"/>
<rect x="403.8" y="244.0" width="34" height="6.4" rx="3.2" fill="#000" opacity="1" filter="url(#b08)"/>
<rect x="473.1" y="236.3" width="37.5" height="6.2" rx="3.1" fill="#040404" opacity="1" filter="url(#b08)"/>
<rect x="473.0" y="243.5" width="36" height="6.8" rx="3.4" fill="#060606" opacity="1" filter="url(#b08)"/>
<rect x="475.5" y="241.0" width="32" height="4" rx="2.0" fill="#1c1c1c" opacity="1" filter="url(#b08)"/>
</g>
<rect x="366.5" y="233.8" width="147.0" height="16.69999999999999" fill="none" stroke="#000" stroke-width="1.4"/>
<g clip-path="url(#cb2)">
<rect x="366.50" y="257.30" width="147.00" height="16.90" fill="#d2d2d2"/>
<rect x="400.0" y="257.0" width="9" height="18" rx="9.0" fill="#efefef" opacity="0.9" filter="url(#b20)"/>
<rect x="436.0" y="257.0" width="9" height="18" rx="9.0" fill="#efefef" opacity="0.9" filter="url(#b20)"/>
<rect x="472.5" y="257.0" width="9" height="18" rx="9.0" fill="#ebebeb" opacity="0.9" filter="url(#b20)"/>
<rect x="369.0" y="261.8" width="30" height="7" rx="3.5" fill="#7c7c7c" opacity="0.95" filter="url(#b20)"/>
<rect x="387.0" y="261.5" width="12" height="5" rx="2.5" fill="#6e6e6e" opacity="0.8" filter="url(#b20)"/>
<rect x="370.0" y="268.5" width="28" height="3" rx="1.5" fill="#9a9a9a" opacity="0.7" filter="url(#b12)"/>
<rect x="410.5" y="259.3" width="26" height="6.6" rx="3.3" fill="#080808" opacity="1" filter="url(#b12)"/>
<rect x="411.0" y="266.4" width="25" height="3.8" rx="1.9" fill="#303030" opacity="0.95" filter="url(#b12)"/>
<rect x="410.0" y="261.0" width="27" height="10" rx="5.0" fill="#555" opacity="0.7" filter="url(#b20)"/>
<rect x="446.0" y="261.5" width="26" height="6" rx="3.0" fill="#a2a2a2" opacity="0.9" filter="url(#b20)"/>
<rect x="447.0" y="267.8" width="24" height="3.5" rx="1.75" fill="#b0b0b0" opacity="0.7" filter="url(#b12)"/>
<rect x="484.5" y="261.1" width="26" height="5" rx="2.5" fill="#4a4a4a" opacity="0.95" filter="url(#b12)"/>
<rect x="485.0" y="267.0" width="25" height="3.6" rx="1.8" fill="#646464" opacity="0.9" filter="url(#b12)"/>
<rect x="483.5" y="261.0" width="28" height="10" rx="5.0" fill="#808080" opacity="0.6" filter="url(#b20)"/>
</g>
<rect x="366.5" y="257.3" width="147.0" height="16.899999999999977" fill="none" stroke="#000" stroke-width="1.4"/>
<g clip-path="url(#cb3)">
<rect x="366.50" y="280.60" width="147.00" height="16.50" fill="#9c9c9c"/>
<rect x="365.0" y="284.0" width="150" height="10" rx="5.0" fill="#8c8c8c" opacity="0.8" filter="url(#b20)"/>
<rect x="368.0" y="285.2" width="30" height="8" rx="4.0" fill="#585858" opacity="0.95" filter="url(#b20)"/>
<rect x="406.5" y="285.4" width="28" height="7.5" rx="3.75" fill="#606060" opacity="0.95" filter="url(#b20)"/>
<rect x="442.0" y="285.1" width="30" height="7.5" rx="3.75" fill="#5a5a5a" opacity="0.95" filter="url(#b20)"/>
<rect x="480.0" y="285.2" width="30" height="8" rx="4.0" fill="#565656" opacity="0.95" filter="url(#b20)"/>
<rect x="488.0" y="287.5" width="14" height="4" rx="2.0" fill="#3a3a3a" opacity="0.8" filter="url(#b12)"/>
<circle cx="380.6" cy="289.2" r="1.2" fill="#111" filter="url(#b05)"/>
<circle cx="443.8" cy="286.4" r="0.9" fill="#2a2a2a" filter="url(#b05)"/>
</g>
<rect x="366.5" y="280.6" width="147.0" height="16.5" fill="none" stroke="#000" stroke-width="1.4"/>
<g clip-path="url(#cb4)">
<rect x="366.50" y="302.80" width="147.00" height="16.20" fill="#cbcbcb"/>
<rect x="365.0" y="302.8" width="150" height="3.5" rx="1.75" fill="#bcbcbc" opacity="0.8" filter="url(#b12)"/>
<rect x="365.0" y="315.0" width="150" height="3" rx="1.5" fill="#d6d6d6" opacity="0.8" filter="url(#b12)"/>
<ellipse cx="386" cy="311.8" rx="14.5" ry="2.3" fill="#0c0c0c" opacity="1" filter="url(#b08)"/>
<rect x="374.0" y="310.4" width="24" height="2.8" rx="1.4" fill="#0c0c0c" opacity="1" filter="url(#b05)"/>
<ellipse cx="420.5" cy="311.3" rx="15.0" ry="2.9" fill="#060606" opacity="1" filter="url(#b08)"/>
<rect x="408.0" y="309.4" width="25" height="3.8" rx="1.9" fill="#060606" opacity="1" filter="url(#b05)"/>
<ellipse cx="454.5" cy="312.4" rx="13.5" ry="1.5" fill="#5a5a5a" opacity="0.95" filter="url(#b08)"/>
<ellipse cx="492" cy="312.4" rx="13.5" ry="1.4" fill="#808080" opacity="0.9" filter="url(#b08)"/>
</g>
<rect x="366.5" y="302.8" width="147.0" height="16.19999999999999" fill="none" stroke="#000" stroke-width="1.4"/>
<g clip-path="url(#cb5)">
<rect x="366.50" y="324.80" width="147.00" height="19.80" fill="#d0d0d0"/>
<rect x="365.0" y="324.8" width="150" height="3.5" rx="1.75" fill="#e4e4e4" opacity="0.8" filter="url(#b12)"/>
<rect x="400.0" y="324.0" width="8" height="20" rx="10.0" fill="#e6e6e6" opacity="0.8" filter="url(#b20)"/>
<rect x="472.0" y="324.0" width="8" height="20" rx="10.0" fill="#e6e6e6" opacity="0.8" filter="url(#b20)"/>
<rect x="365.0" y="333.0" width="150" height="3" rx="1.5" fill="#e2e2e2" opacity="0.6" filter="url(#b12)"/>
<ellipse cx="383" cy="330.3" rx="14.0" ry="2.2" fill="#9a9a9a" opacity="0.9" filter="url(#b12)"/>
<ellipse cx="424" cy="330" rx="13.0" ry="2.2" fill="#7a7a7a" opacity="0.95" filter="url(#b12)"/>
<ellipse cx="457.5" cy="330.3" rx="12.5" ry="2.6" fill="#161616" opacity="1" filter="url(#b08)"/>
<ellipse cx="497.5" cy="330" rx="12.5" ry="2.3" fill="#303030" opacity="1" filter="url(#b08)"/>
<ellipse cx="383" cy="338.8" rx="15.5" ry="2.5" fill="#5a5a5a" opacity="0.95" filter="url(#b12)"/>
<ellipse cx="422" cy="338.8" rx="15.0" ry="2.6" fill="#484848" opacity="0.95" filter="url(#b12)"/>
<ellipse cx="457.5" cy="338.8" rx="12.5" ry="2.3" fill="#2c2c2c" opacity="1" filter="url(#b08)"/>
<ellipse cx="497" cy="338.6" rx="12.5" ry="2.0" fill="#5c5c5c" opacity="0.95" filter="url(#b12)"/>
</g>
<rect x="366.5" y="324.8" width="147.0" height="19.80000000000001" fill="none" stroke="#000" stroke-width="1.4"/>
<g clip-path="url(#cb6)">
<rect x="366.50" y="349.40" width="147.00" height="16.20" fill="#d4d4d4"/>
<rect x="365.0" y="350.0" width="150" height="3" rx="1.5" fill="#c8c8c8" opacity="0.7" filter="url(#b12)"/>
<ellipse cx="388" cy="358.4" rx="18.0" ry="2.95" fill="#080808" opacity="1" filter="url(#b08)"/>
<rect x="373.0" y="356.4" width="30" height="4.0" rx="2.0" fill="#080808" opacity="1" filter="url(#b05)"/>
<ellipse cx="424.3" cy="358.3" rx="16.5" ry="3.0" fill="#080808" opacity="1" filter="url(#b08)"/>
<rect x="410.8" y="356.2" width="27" height="4.2" rx="2.1" fill="#080808" opacity="1" filter="url(#b05)"/>
<ellipse cx="459" cy="358.6" rx="16.0" ry="2.95" fill="#080808" opacity="1" filter="url(#b08)"/>
<rect x="446.0" y="356.6" width="26" height="4.0" rx="2.0" fill="#080808" opacity="1" filter="url(#b05)"/>
<ellipse cx="495" cy="360.4" rx="16.5" ry="3.2" fill="#080808" opacity="1" filter="url(#b08)"/>
<rect x="481.5" y="358.1" width="27" height="4.6" rx="2.3" fill="#080808" opacity="1" filter="url(#b05)"/>
</g>
<rect x="366.5" y="349.4" width="147.0" height="16.200000000000045" fill="none" stroke="#000" stroke-width="1.4"/>
</g>
<g opacity="0.999"><rect x="0" y="0" width="520" height="1" fill="#5c5c5c"/>
<rect x="0" y="0" width="1" height="422" fill="#5c5c5c"/>
<rect x="518.8" y="0" width="1.2" height="422" fill="#555"/>
<rect x="0" y="420.8" width="520" height="1.2" fill="#555"/></g>
</svg>
</body></html>
